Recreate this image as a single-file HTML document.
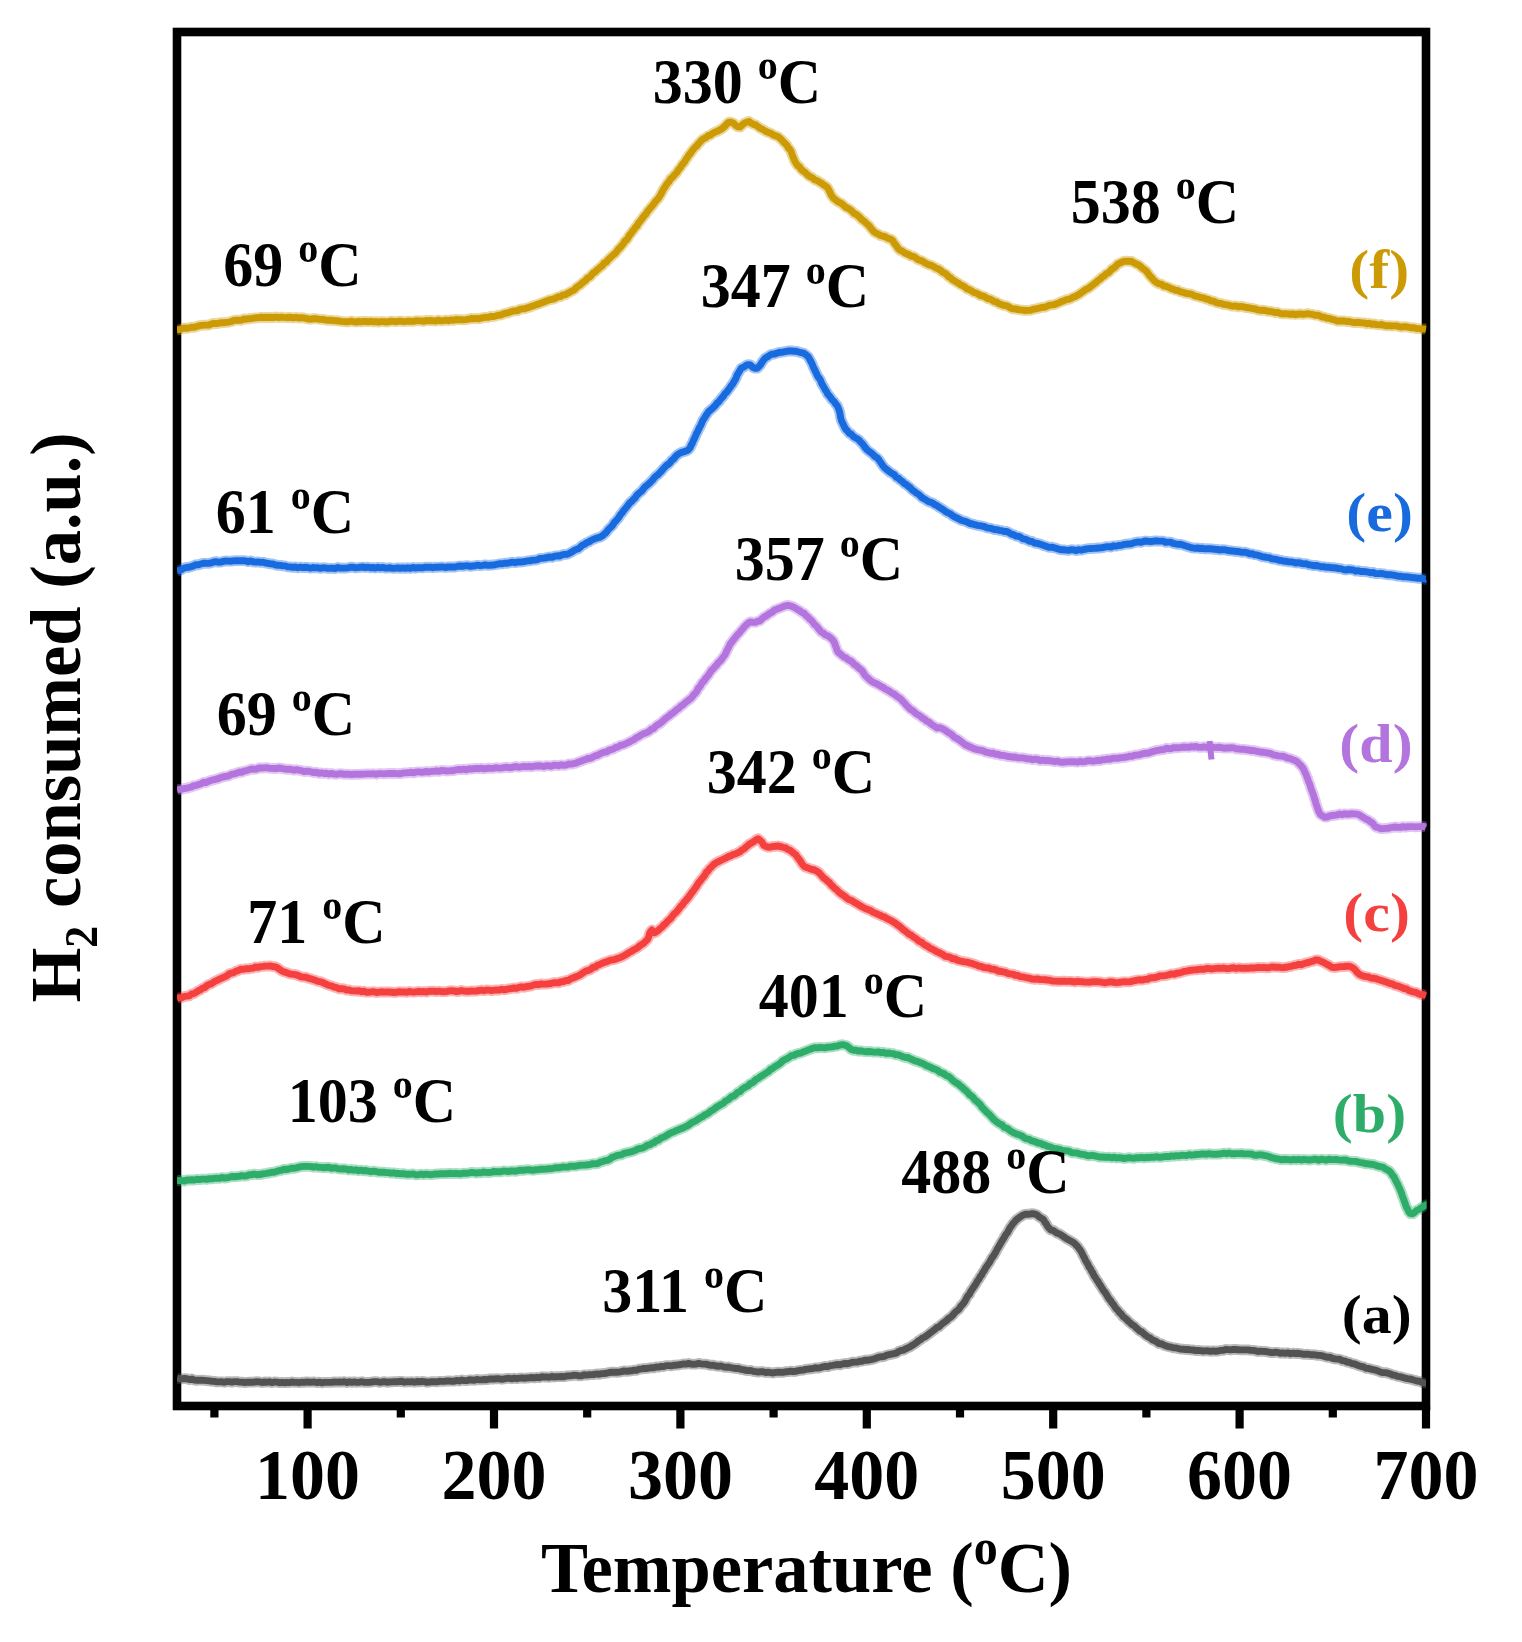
<!DOCTYPE html>
<html lang="en"><head><meta charset="utf-8"><title>H2-TPR profiles</title>
<style>
html,body{margin:0;padding:0;background:#fff;}
body{width:1522px;height:1642px;overflow:hidden;}
svg{display:block;filter:blur(0.75px);}
text{font-family:"Liberation Serif","Times New Roman",serif;font-weight:bold;fill:#000;}
.tick{font-size:70px;text-anchor:middle;}
.ann{font-size:60px;}
.lab{font-size:60px;}
.axis{font-size:70.5px;}
.crv{fill:none;stroke-linejoin:round;stroke-linecap:butt;}
.halo{stroke-width:10.8;stroke-opacity:.4;}
.core{stroke-width:6.9;}
</style></head><body>
<svg width="1522" height="1642" viewBox="0 0 1522 1642">
<rect x="0" y="0" width="1522" height="1642" fill="#fff"/>
<rect x="177" y="32" width="1249" height="1374" fill="none" stroke="#000" stroke-width="8.6"/>
<defs><clipPath id="clip"><rect x="177" y="32" width="1249.6" height="1374"/></clipPath></defs>
<g clip-path="url(#clip)">
<path class="crv halo" stroke="#525252" d="M177.0,1378.1 L179.5,1378.7 L182.0,1378.8 L184.5,1378.5 L187.0,1378.8 L189.5,1379.6 L191.9,1379.0 L194.4,1380.1 L196.9,1380.3 L199.4,1380.2 L201.9,1380.2 L204.4,1380.4 L206.9,1380.6 L209.4,1380.9 L211.9,1381.2 L214.4,1381.4 L216.9,1381.9 L219.4,1381.9 L221.9,1381.8 L224.4,1382.3 L226.9,1381.6 L229.4,1381.6 L231.9,1382.1 L234.4,1381.6 L236.9,1381.6 L239.4,1382.1 L241.9,1382.1 L244.4,1382.5 L246.9,1382.3 L249.4,1382.2 L251.9,1382.2 L254.4,1382.0 L256.9,1381.7 L259.4,1381.9 L261.9,1382.5 L264.4,1382.0 L266.9,1382.2 L269.4,1381.8 L271.9,1382.6 L274.4,1382.0 L276.9,1382.1 L279.4,1382.7 L281.9,1382.4 L284.4,1382.7 L286.9,1382.5 L289.4,1382.6 L291.9,1382.0 L294.4,1382.4 L296.9,1382.4 L299.4,1382.7 L301.9,1382.2 L304.4,1382.4 L306.9,1381.9 L309.4,1382.2 L311.9,1382.1 L314.4,1382.0 L316.9,1382.6 L319.4,1382.2 L321.9,1382.8 L324.4,1382.4 L326.9,1382.4 L329.4,1382.4 L331.9,1382.4 L334.4,1381.9 L336.9,1382.1 L339.4,1381.9 L341.9,1382.1 L344.4,1381.7 L346.9,1382.6 L349.4,1381.8 L351.9,1382.3 L354.4,1381.9 L356.9,1382.4 L359.4,1382.2 L361.9,1381.7 L364.4,1382.4 L366.9,1382.4 L369.4,1382.4 L371.9,1382.0 L374.4,1381.6 L376.9,1381.6 L379.4,1382.3 L381.9,1382.0 L384.4,1381.6 L386.9,1382.3 L389.4,1382.0 L391.9,1381.9 L394.4,1381.7 L396.9,1381.7 L399.4,1381.5 L401.9,1381.3 L404.4,1382.2 L406.9,1381.8 L409.4,1381.9 L411.9,1381.7 L414.4,1382.2 L416.9,1381.5 L419.4,1381.8 L421.9,1381.5 L424.4,1381.6 L426.9,1382.4 L429.4,1382.0 L431.9,1381.7 L434.4,1381.7 L436.9,1381.9 L439.4,1381.3 L441.8,1381.4 L444.3,1381.4 L446.8,1381.0 L449.3,1381.0 L451.8,1381.2 L454.3,1381.2 L456.8,1380.4 L459.3,1381.0 L461.8,1380.0 L464.3,1380.6 L466.8,1380.6 L469.3,1379.8 L471.8,1380.0 L474.3,1380.3 L476.8,1379.4 L479.3,1379.9 L481.8,1379.9 L484.3,1379.5 L486.8,1379.7 L489.3,1379.0 L491.8,1378.9 L494.3,1379.0 L496.8,1378.7 L499.3,1378.8 L501.8,1379.3 L504.3,1378.8 L506.8,1378.4 L509.3,1378.3 L511.8,1378.8 L514.3,1378.2 L516.8,1378.7 L519.3,1378.1 L521.8,1378.0 L524.3,1378.3 L526.8,1378.0 L529.3,1377.8 L531.8,1377.5 L534.3,1377.9 L536.8,1377.3 L539.3,1377.7 L541.8,1376.7 L544.3,1377.0 L546.8,1377.0 L549.3,1377.3 L551.8,1376.5 L554.2,1377.0 L556.7,1376.7 L559.2,1376.7 L561.7,1376.5 L564.2,1376.7 L566.7,1376.0 L569.2,1375.9 L571.7,1375.6 L574.2,1375.3 L576.7,1375.4 L579.2,1375.9 L581.7,1375.7 L584.2,1374.8 L586.7,1375.1 L589.2,1374.7 L591.7,1374.6 L594.2,1374.5 L596.7,1373.9 L599.2,1374.3 L601.6,1373.6 L604.1,1373.5 L606.6,1373.2 L609.1,1372.5 L611.6,1372.2 L614.1,1372.2 L616.6,1372.3 L619.1,1372.1 L621.5,1371.7 L624.0,1370.9 L626.5,1371.4 L629.0,1371.0 L631.5,1370.8 L634.0,1370.2 L636.5,1370.3 L638.9,1369.2 L641.4,1368.9 L643.9,1368.5 L646.4,1368.5 L648.9,1368.1 L651.3,1367.7 L653.8,1367.8 L656.3,1366.9 L658.8,1367.1 L661.2,1366.4 L663.7,1366.6 L666.2,1365.6 L668.7,1365.6 L671.2,1365.9 L673.7,1365.2 L676.1,1365.2 L678.6,1364.8 L681.1,1364.5 L683.6,1363.9 L686.1,1364.1 L688.6,1363.4 L691.1,1364.1 L693.6,1364.2 L696.1,1364.1 L698.6,1363.4 L701.1,1363.9 L703.6,1364.1 L706.1,1364.1 L708.6,1364.9 L711.1,1365.4 L713.5,1365.2 L716.0,1366.0 L718.5,1366.3 L721.0,1365.9 L723.5,1366.9 L726.0,1367.4 L728.4,1367.0 L730.9,1367.7 L733.4,1368.1 L735.9,1368.5 L738.3,1368.4 L740.8,1369.3 L743.3,1369.7 L745.7,1370.3 L748.2,1370.6 L750.7,1370.5 L753.2,1371.3 L755.6,1371.7 L758.1,1372.1 L760.6,1371.6 L763.1,1371.7 L765.6,1372.5 L768.1,1372.2 L770.6,1372.6 L773.1,1373.0 L775.6,1372.4 L778.1,1372.2 L780.6,1372.3 L783.1,1372.4 L785.6,1371.7 L788.1,1371.7 L790.6,1371.2 L793.1,1371.5 L795.6,1371.4 L798.1,1370.6 L800.6,1370.3 L803.1,1370.1 L805.5,1369.4 L808.0,1369.1 L810.5,1368.8 L813.0,1368.6 L815.4,1367.8 L817.9,1368.1 L820.4,1367.6 L822.8,1366.9 L825.3,1366.3 L827.8,1366.7 L830.3,1365.6 L832.7,1365.3 L835.2,1364.9 L837.7,1364.5 L840.1,1364.9 L842.6,1363.9 L845.1,1363.5 L847.6,1363.7 L850.0,1363.1 L852.5,1362.2 L855.0,1362.1 L857.4,1362.1 L859.9,1361.2 L862.4,1361.2 L864.8,1360.1 L867.3,1360.3 L869.7,1359.8 L872.2,1359.4 L874.6,1358.7 L877.0,1357.8 L879.5,1356.9 L881.9,1356.8 L884.3,1356.4 L886.8,1355.2 L889.2,1354.7 L891.6,1354.2 L894.0,1353.7 L896.3,1353.1 L898.7,1351.4 L901.0,1350.5 L903.3,1350.1 L905.6,1348.9 L907.8,1347.8 L910.0,1346.8 L912.1,1345.5 L914.3,1344.1 L916.4,1342.7 L918.4,1340.9 L920.5,1339.8 L922.6,1337.9 L924.6,1337.1 L926.7,1335.6 L928.7,1334.2 L930.8,1332.4 L932.8,1330.9 L934.8,1329.5 L936.8,1327.6 L938.8,1326.9 L940.8,1325.1 L942.7,1323.3 L944.7,1321.9 L946.6,1320.5 L948.5,1318.5 L950.4,1317.3 L952.3,1315.7 L954.1,1313.5 L955.9,1311.5 L957.7,1310.3 L959.3,1308.7 L961.0,1305.9 L962.5,1304.5 L964.0,1302.6 L965.3,1300.6 L966.7,1297.7 L968.0,1295.6 L969.4,1294.4 L970.7,1291.4 L972.1,1289.4 L973.4,1287.6 L974.8,1285.4 L976.1,1283.6 L977.4,1280.9 L978.8,1279.5 L980.1,1276.7 L981.5,1275.2 L982.8,1272.4 L984.2,1270.7 L985.5,1268.1 L986.8,1266.3 L988.2,1264.2 L989.5,1262.4 L990.8,1260.0 L992.1,1257.5 L993.3,1256.3 L994.6,1254.0 L995.9,1251.9 L997.2,1249.1 L998.5,1247.1 L999.8,1244.8 L1001.1,1242.6 L1002.4,1240.3 L1003.6,1238.6 L1004.9,1236.1 L1006.2,1234.0 L1007.5,1232.6 L1008.8,1230.1 L1010.1,1227.6 L1011.4,1226.1 L1012.8,1223.7 L1014.4,1222.1 L1016.1,1220.0 L1018.0,1218.5 L1020.2,1216.9 L1022.5,1215.4 L1025.0,1214.3 L1027.4,1214.2 L1029.9,1214.1 L1032.2,1213.6 L1034.6,1214.0 L1036.9,1214.8 L1039.2,1216.9 L1041.5,1218.3 L1043.5,1219.4 L1044.9,1222.3 L1046.2,1223.7 L1047.4,1226.2 L1048.9,1228.1 L1050.9,1230.0 L1053.0,1230.3 L1055.2,1231.8 L1057.4,1233.3 L1059.6,1234.0 L1061.7,1235.4 L1063.9,1236.9 L1066.1,1238.5 L1068.3,1239.6 L1070.5,1240.9 L1072.6,1242.1 L1074.6,1243.6 L1076.5,1245.4 L1078.1,1247.2 L1079.6,1249.3 L1080.8,1251.0 L1082.0,1253.1 L1083.2,1255.9 L1084.3,1257.6 L1085.5,1260.5 L1086.7,1262.4 L1087.9,1264.3 L1089.1,1267.1 L1090.3,1268.5 L1091.5,1271.1 L1092.8,1272.8 L1094.1,1275.8 L1095.4,1277.6 L1096.7,1279.9 L1098.0,1281.5 L1099.4,1284.1 L1100.8,1286.1 L1102.1,1288.2 L1103.5,1290.6 L1104.9,1292.1 L1106.2,1294.2 L1107.6,1296.6 L1109.0,1298.8 L1110.4,1300.3 L1111.8,1302.7 L1113.3,1304.3 L1114.8,1306.7 L1116.3,1308.9 L1117.8,1310.1 L1119.5,1312.7 L1121.2,1313.8 L1122.9,1316.5 L1124.7,1317.8 L1126.6,1319.4 L1128.4,1321.4 L1130.3,1322.9 L1132.2,1324.7 L1134.1,1325.7 L1136.0,1327.8 L1138.0,1329.4 L1139.9,1331.3 L1141.9,1331.9 L1143.9,1333.8 L1145.9,1335.5 L1147.9,1336.9 L1150.0,1337.8 L1152.1,1339.7 L1154.3,1340.6 L1156.5,1341.7 L1158.8,1343.5 L1161.1,1343.7 L1163.5,1344.9 L1165.9,1345.9 L1168.4,1346.6 L1170.8,1347.0 L1173.2,1347.8 L1175.7,1347.9 L1178.1,1348.5 L1180.6,1349.1 L1183.1,1349.2 L1185.6,1349.5 L1188.1,1349.5 L1190.6,1349.9 L1193.0,1350.0 L1195.5,1350.5 L1198.0,1350.4 L1200.5,1350.6 L1203.0,1351.0 L1205.5,1350.9 L1208.0,1350.8 L1210.5,1351.3 L1213.0,1350.9 L1215.5,1351.2 L1218.0,1351.0 L1220.5,1350.4 L1223.0,1350.4 L1225.5,1349.5 L1228.0,1349.6 L1230.5,1349.9 L1233.0,1349.5 L1235.5,1349.5 L1238.0,1349.7 L1240.5,1349.9 L1243.0,1349.9 L1245.5,1349.9 L1247.9,1349.9 L1250.4,1350.2 L1252.9,1350.4 L1255.4,1350.7 L1257.9,1351.5 L1260.4,1351.1 L1262.9,1351.4 L1265.4,1351.5 L1267.9,1351.9 L1270.4,1352.5 L1272.9,1352.6 L1275.4,1352.3 L1277.9,1352.4 L1280.3,1353.2 L1282.8,1352.9 L1285.3,1353.3 L1287.8,1352.8 L1290.3,1353.7 L1292.8,1353.2 L1295.3,1353.5 L1297.8,1353.3 L1300.3,1353.6 L1302.8,1354.2 L1305.3,1354.3 L1307.8,1354.2 L1310.3,1354.7 L1312.8,1354.7 L1315.3,1354.9 L1317.7,1355.4 L1320.2,1355.4 L1322.7,1355.9 L1325.2,1356.7 L1327.6,1357.3 L1330.1,1357.1 L1332.5,1358.3 L1335.0,1358.9 L1337.4,1359.1 L1339.8,1359.3 L1342.3,1360.6 L1344.7,1360.9 L1347.1,1362.0 L1349.5,1362.4 L1351.8,1363.5 L1354.2,1363.8 L1356.6,1364.8 L1359.0,1365.7 L1361.4,1366.5 L1363.7,1366.9 L1366.1,1368.4 L1368.5,1368.4 L1370.9,1369.1 L1373.3,1369.7 L1375.7,1370.2 L1378.2,1371.1 L1380.6,1372.1 L1383.0,1372.6 L1385.5,1372.6 L1387.9,1373.2 L1390.3,1373.9 L1392.8,1375.0 L1395.2,1375.3 L1397.6,1376.4 L1400.0,1376.7 L1402.4,1377.3 L1404.9,1378.1 L1407.3,1378.7 L1409.7,1379.0 L1412.1,1379.5 L1414.5,1380.3 L1416.9,1381.0 L1419.4,1381.3 L1421.8,1382.3 L1424.2,1383.1 L1426.0,1383.1"/>
<path class="crv core" stroke="#525252" d="M177.0,1378.1 L179.5,1378.7 L182.0,1378.8 L184.5,1378.5 L187.0,1378.8 L189.5,1379.6 L191.9,1379.0 L194.4,1380.1 L196.9,1380.3 L199.4,1380.2 L201.9,1380.2 L204.4,1380.4 L206.9,1380.6 L209.4,1380.9 L211.9,1381.2 L214.4,1381.4 L216.9,1381.9 L219.4,1381.9 L221.9,1381.8 L224.4,1382.3 L226.9,1381.6 L229.4,1381.6 L231.9,1382.1 L234.4,1381.6 L236.9,1381.6 L239.4,1382.1 L241.9,1382.1 L244.4,1382.5 L246.9,1382.3 L249.4,1382.2 L251.9,1382.2 L254.4,1382.0 L256.9,1381.7 L259.4,1381.9 L261.9,1382.5 L264.4,1382.0 L266.9,1382.2 L269.4,1381.8 L271.9,1382.6 L274.4,1382.0 L276.9,1382.1 L279.4,1382.7 L281.9,1382.4 L284.4,1382.7 L286.9,1382.5 L289.4,1382.6 L291.9,1382.0 L294.4,1382.4 L296.9,1382.4 L299.4,1382.7 L301.9,1382.2 L304.4,1382.4 L306.9,1381.9 L309.4,1382.2 L311.9,1382.1 L314.4,1382.0 L316.9,1382.6 L319.4,1382.2 L321.9,1382.8 L324.4,1382.4 L326.9,1382.4 L329.4,1382.4 L331.9,1382.4 L334.4,1381.9 L336.9,1382.1 L339.4,1381.9 L341.9,1382.1 L344.4,1381.7 L346.9,1382.6 L349.4,1381.8 L351.9,1382.3 L354.4,1381.9 L356.9,1382.4 L359.4,1382.2 L361.9,1381.7 L364.4,1382.4 L366.9,1382.4 L369.4,1382.4 L371.9,1382.0 L374.4,1381.6 L376.9,1381.6 L379.4,1382.3 L381.9,1382.0 L384.4,1381.6 L386.9,1382.3 L389.4,1382.0 L391.9,1381.9 L394.4,1381.7 L396.9,1381.7 L399.4,1381.5 L401.9,1381.3 L404.4,1382.2 L406.9,1381.8 L409.4,1381.9 L411.9,1381.7 L414.4,1382.2 L416.9,1381.5 L419.4,1381.8 L421.9,1381.5 L424.4,1381.6 L426.9,1382.4 L429.4,1382.0 L431.9,1381.7 L434.4,1381.7 L436.9,1381.9 L439.4,1381.3 L441.8,1381.4 L444.3,1381.4 L446.8,1381.0 L449.3,1381.0 L451.8,1381.2 L454.3,1381.2 L456.8,1380.4 L459.3,1381.0 L461.8,1380.0 L464.3,1380.6 L466.8,1380.6 L469.3,1379.8 L471.8,1380.0 L474.3,1380.3 L476.8,1379.4 L479.3,1379.9 L481.8,1379.9 L484.3,1379.5 L486.8,1379.7 L489.3,1379.0 L491.8,1378.9 L494.3,1379.0 L496.8,1378.7 L499.3,1378.8 L501.8,1379.3 L504.3,1378.8 L506.8,1378.4 L509.3,1378.3 L511.8,1378.8 L514.3,1378.2 L516.8,1378.7 L519.3,1378.1 L521.8,1378.0 L524.3,1378.3 L526.8,1378.0 L529.3,1377.8 L531.8,1377.5 L534.3,1377.9 L536.8,1377.3 L539.3,1377.7 L541.8,1376.7 L544.3,1377.0 L546.8,1377.0 L549.3,1377.3 L551.8,1376.5 L554.2,1377.0 L556.7,1376.7 L559.2,1376.7 L561.7,1376.5 L564.2,1376.7 L566.7,1376.0 L569.2,1375.9 L571.7,1375.6 L574.2,1375.3 L576.7,1375.4 L579.2,1375.9 L581.7,1375.7 L584.2,1374.8 L586.7,1375.1 L589.2,1374.7 L591.7,1374.6 L594.2,1374.5 L596.7,1373.9 L599.2,1374.3 L601.6,1373.6 L604.1,1373.5 L606.6,1373.2 L609.1,1372.5 L611.6,1372.2 L614.1,1372.2 L616.6,1372.3 L619.1,1372.1 L621.5,1371.7 L624.0,1370.9 L626.5,1371.4 L629.0,1371.0 L631.5,1370.8 L634.0,1370.2 L636.5,1370.3 L638.9,1369.2 L641.4,1368.9 L643.9,1368.5 L646.4,1368.5 L648.9,1368.1 L651.3,1367.7 L653.8,1367.8 L656.3,1366.9 L658.8,1367.1 L661.2,1366.4 L663.7,1366.6 L666.2,1365.6 L668.7,1365.6 L671.2,1365.9 L673.7,1365.2 L676.1,1365.2 L678.6,1364.8 L681.1,1364.5 L683.6,1363.9 L686.1,1364.1 L688.6,1363.4 L691.1,1364.1 L693.6,1364.2 L696.1,1364.1 L698.6,1363.4 L701.1,1363.9 L703.6,1364.1 L706.1,1364.1 L708.6,1364.9 L711.1,1365.4 L713.5,1365.2 L716.0,1366.0 L718.5,1366.3 L721.0,1365.9 L723.5,1366.9 L726.0,1367.4 L728.4,1367.0 L730.9,1367.7 L733.4,1368.1 L735.9,1368.5 L738.3,1368.4 L740.8,1369.3 L743.3,1369.7 L745.7,1370.3 L748.2,1370.6 L750.7,1370.5 L753.2,1371.3 L755.6,1371.7 L758.1,1372.1 L760.6,1371.6 L763.1,1371.7 L765.6,1372.5 L768.1,1372.2 L770.6,1372.6 L773.1,1373.0 L775.6,1372.4 L778.1,1372.2 L780.6,1372.3 L783.1,1372.4 L785.6,1371.7 L788.1,1371.7 L790.6,1371.2 L793.1,1371.5 L795.6,1371.4 L798.1,1370.6 L800.6,1370.3 L803.1,1370.1 L805.5,1369.4 L808.0,1369.1 L810.5,1368.8 L813.0,1368.6 L815.4,1367.8 L817.9,1368.1 L820.4,1367.6 L822.8,1366.9 L825.3,1366.3 L827.8,1366.7 L830.3,1365.6 L832.7,1365.3 L835.2,1364.9 L837.7,1364.5 L840.1,1364.9 L842.6,1363.9 L845.1,1363.5 L847.6,1363.7 L850.0,1363.1 L852.5,1362.2 L855.0,1362.1 L857.4,1362.1 L859.9,1361.2 L862.4,1361.2 L864.8,1360.1 L867.3,1360.3 L869.7,1359.8 L872.2,1359.4 L874.6,1358.7 L877.0,1357.8 L879.5,1356.9 L881.9,1356.8 L884.3,1356.4 L886.8,1355.2 L889.2,1354.7 L891.6,1354.2 L894.0,1353.7 L896.3,1353.1 L898.7,1351.4 L901.0,1350.5 L903.3,1350.1 L905.6,1348.9 L907.8,1347.8 L910.0,1346.8 L912.1,1345.5 L914.3,1344.1 L916.4,1342.7 L918.4,1340.9 L920.5,1339.8 L922.6,1337.9 L924.6,1337.1 L926.7,1335.6 L928.7,1334.2 L930.8,1332.4 L932.8,1330.9 L934.8,1329.5 L936.8,1327.6 L938.8,1326.9 L940.8,1325.1 L942.7,1323.3 L944.7,1321.9 L946.6,1320.5 L948.5,1318.5 L950.4,1317.3 L952.3,1315.7 L954.1,1313.5 L955.9,1311.5 L957.7,1310.3 L959.3,1308.7 L961.0,1305.9 L962.5,1304.5 L964.0,1302.6 L965.3,1300.6 L966.7,1297.7 L968.0,1295.6 L969.4,1294.4 L970.7,1291.4 L972.1,1289.4 L973.4,1287.6 L974.8,1285.4 L976.1,1283.6 L977.4,1280.9 L978.8,1279.5 L980.1,1276.7 L981.5,1275.2 L982.8,1272.4 L984.2,1270.7 L985.5,1268.1 L986.8,1266.3 L988.2,1264.2 L989.5,1262.4 L990.8,1260.0 L992.1,1257.5 L993.3,1256.3 L994.6,1254.0 L995.9,1251.9 L997.2,1249.1 L998.5,1247.1 L999.8,1244.8 L1001.1,1242.6 L1002.4,1240.3 L1003.6,1238.6 L1004.9,1236.1 L1006.2,1234.0 L1007.5,1232.6 L1008.8,1230.1 L1010.1,1227.6 L1011.4,1226.1 L1012.8,1223.7 L1014.4,1222.1 L1016.1,1220.0 L1018.0,1218.5 L1020.2,1216.9 L1022.5,1215.4 L1025.0,1214.3 L1027.4,1214.2 L1029.9,1214.1 L1032.2,1213.6 L1034.6,1214.0 L1036.9,1214.8 L1039.2,1216.9 L1041.5,1218.3 L1043.5,1219.4 L1044.9,1222.3 L1046.2,1223.7 L1047.4,1226.2 L1048.9,1228.1 L1050.9,1230.0 L1053.0,1230.3 L1055.2,1231.8 L1057.4,1233.3 L1059.6,1234.0 L1061.7,1235.4 L1063.9,1236.9 L1066.1,1238.5 L1068.3,1239.6 L1070.5,1240.9 L1072.6,1242.1 L1074.6,1243.6 L1076.5,1245.4 L1078.1,1247.2 L1079.6,1249.3 L1080.8,1251.0 L1082.0,1253.1 L1083.2,1255.9 L1084.3,1257.6 L1085.5,1260.5 L1086.7,1262.4 L1087.9,1264.3 L1089.1,1267.1 L1090.3,1268.5 L1091.5,1271.1 L1092.8,1272.8 L1094.1,1275.8 L1095.4,1277.6 L1096.7,1279.9 L1098.0,1281.5 L1099.4,1284.1 L1100.8,1286.1 L1102.1,1288.2 L1103.5,1290.6 L1104.9,1292.1 L1106.2,1294.2 L1107.6,1296.6 L1109.0,1298.8 L1110.4,1300.3 L1111.8,1302.7 L1113.3,1304.3 L1114.8,1306.7 L1116.3,1308.9 L1117.8,1310.1 L1119.5,1312.7 L1121.2,1313.8 L1122.9,1316.5 L1124.7,1317.8 L1126.6,1319.4 L1128.4,1321.4 L1130.3,1322.9 L1132.2,1324.7 L1134.1,1325.7 L1136.0,1327.8 L1138.0,1329.4 L1139.9,1331.3 L1141.9,1331.9 L1143.9,1333.8 L1145.9,1335.5 L1147.9,1336.9 L1150.0,1337.8 L1152.1,1339.7 L1154.3,1340.6 L1156.5,1341.7 L1158.8,1343.5 L1161.1,1343.7 L1163.5,1344.9 L1165.9,1345.9 L1168.4,1346.6 L1170.8,1347.0 L1173.2,1347.8 L1175.7,1347.9 L1178.1,1348.5 L1180.6,1349.1 L1183.1,1349.2 L1185.6,1349.5 L1188.1,1349.5 L1190.6,1349.9 L1193.0,1350.0 L1195.5,1350.5 L1198.0,1350.4 L1200.5,1350.6 L1203.0,1351.0 L1205.5,1350.9 L1208.0,1350.8 L1210.5,1351.3 L1213.0,1350.9 L1215.5,1351.2 L1218.0,1351.0 L1220.5,1350.4 L1223.0,1350.4 L1225.5,1349.5 L1228.0,1349.6 L1230.5,1349.9 L1233.0,1349.5 L1235.5,1349.5 L1238.0,1349.7 L1240.5,1349.9 L1243.0,1349.9 L1245.5,1349.9 L1247.9,1349.9 L1250.4,1350.2 L1252.9,1350.4 L1255.4,1350.7 L1257.9,1351.5 L1260.4,1351.1 L1262.9,1351.4 L1265.4,1351.5 L1267.9,1351.9 L1270.4,1352.5 L1272.9,1352.6 L1275.4,1352.3 L1277.9,1352.4 L1280.3,1353.2 L1282.8,1352.9 L1285.3,1353.3 L1287.8,1352.8 L1290.3,1353.7 L1292.8,1353.2 L1295.3,1353.5 L1297.8,1353.3 L1300.3,1353.6 L1302.8,1354.2 L1305.3,1354.3 L1307.8,1354.2 L1310.3,1354.7 L1312.8,1354.7 L1315.3,1354.9 L1317.7,1355.4 L1320.2,1355.4 L1322.7,1355.9 L1325.2,1356.7 L1327.6,1357.3 L1330.1,1357.1 L1332.5,1358.3 L1335.0,1358.9 L1337.4,1359.1 L1339.8,1359.3 L1342.3,1360.6 L1344.7,1360.9 L1347.1,1362.0 L1349.5,1362.4 L1351.8,1363.5 L1354.2,1363.8 L1356.6,1364.8 L1359.0,1365.7 L1361.4,1366.5 L1363.7,1366.9 L1366.1,1368.4 L1368.5,1368.4 L1370.9,1369.1 L1373.3,1369.7 L1375.7,1370.2 L1378.2,1371.1 L1380.6,1372.1 L1383.0,1372.6 L1385.5,1372.6 L1387.9,1373.2 L1390.3,1373.9 L1392.8,1375.0 L1395.2,1375.3 L1397.6,1376.4 L1400.0,1376.7 L1402.4,1377.3 L1404.9,1378.1 L1407.3,1378.7 L1409.7,1379.0 L1412.1,1379.5 L1414.5,1380.3 L1416.9,1381.0 L1419.4,1381.3 L1421.8,1382.3 L1424.2,1383.1 L1426.0,1383.1"/>
<path class="crv halo" stroke="#2EAC6A" d="M177.0,1180.6 L179.5,1180.5 L182.0,1180.5 L184.5,1181.1 L187.0,1180.0 L189.5,1180.0 L192.0,1179.8 L194.5,1180.0 L197.0,1179.3 L199.5,1179.6 L202.0,1179.1 L204.4,1179.1 L206.9,1179.4 L209.4,1178.6 L211.9,1178.8 L214.4,1178.4 L216.9,1178.2 L219.4,1178.4 L221.9,1177.5 L224.4,1178.0 L226.9,1177.8 L229.4,1177.3 L231.8,1176.5 L234.3,1176.8 L236.8,1176.5 L239.3,1176.4 L241.8,1175.6 L244.3,1176.1 L246.8,1175.8 L249.3,1174.7 L251.7,1174.7 L254.2,1174.1 L256.7,1174.7 L259.2,1174.5 L261.7,1174.3 L264.2,1173.6 L266.6,1173.3 L269.1,1172.9 L271.6,1172.3 L274.1,1172.2 L276.5,1171.4 L279.0,1170.6 L281.5,1170.3 L284.0,1169.3 L286.4,1169.5 L288.9,1169.0 L291.4,1168.3 L293.8,1168.3 L296.3,1167.9 L298.8,1167.1 L301.3,1166.6 L303.7,1166.4 L306.2,1166.4 L308.7,1166.4 L311.2,1166.6 L313.7,1167.2 L316.2,1166.7 L318.7,1167.4 L321.2,1167.4 L323.7,1167.7 L326.1,1167.5 L328.6,1167.3 L331.1,1168.3 L333.6,1167.9 L336.1,1168.0 L338.6,1168.9 L341.1,1169.0 L343.6,1168.8 L346.1,1169.1 L348.6,1170.0 L351.1,1169.5 L353.6,1170.2 L356.0,1169.8 L358.5,1170.7 L361.0,1170.2 L363.5,1170.8 L366.0,1170.5 L368.5,1171.2 L371.0,1171.7 L373.5,1171.1 L376.0,1171.5 L378.5,1172.2 L381.0,1172.2 L383.5,1172.1 L386.0,1172.6 L388.5,1172.6 L390.9,1173.2 L393.4,1172.8 L395.9,1173.5 L398.4,1173.5 L400.9,1173.8 L403.4,1173.6 L405.9,1174.2 L408.4,1174.3 L410.9,1174.1 L413.4,1173.9 L415.9,1174.9 L418.4,1174.7 L420.9,1174.2 L423.4,1174.7 L425.9,1174.2 L428.4,1174.4 L430.9,1174.7 L433.4,1174.3 L435.9,1174.0 L438.4,1174.0 L440.9,1173.7 L443.4,1173.7 L445.9,1173.7 L448.4,1173.5 L450.9,1173.3 L453.4,1173.7 L455.9,1173.3 L458.4,1173.7 L460.9,1173.8 L463.4,1173.1 L465.9,1173.3 L468.4,1173.1 L470.9,1172.5 L473.4,1172.5 L475.9,1173.1 L478.4,1172.6 L480.9,1172.8 L483.4,1172.0 L485.9,1172.4 L488.4,1172.5 L490.9,1172.4 L493.4,1171.5 L495.9,1171.8 L498.4,1171.6 L500.8,1171.8 L503.3,1171.0 L505.8,1171.1 L508.3,1171.5 L510.8,1171.0 L513.3,1170.9 L515.8,1171.3 L518.3,1170.5 L520.8,1170.1 L523.3,1170.3 L525.8,1169.9 L528.3,1169.7 L530.8,1170.0 L533.3,1170.3 L535.8,1169.7 L538.3,1169.6 L540.8,1169.1 L543.3,1169.2 L545.8,1169.1 L548.3,1168.8 L550.7,1168.7 L553.2,1168.3 L555.7,1167.7 L558.2,1167.8 L560.7,1167.5 L563.2,1166.9 L565.7,1167.1 L568.2,1167.0 L570.6,1166.1 L573.1,1166.2 L575.6,1166.2 L578.1,1165.6 L580.6,1165.2 L583.1,1165.1 L585.6,1165.0 L588.1,1164.8 L590.5,1164.4 L593.0,1163.6 L595.5,1163.9 L597.9,1163.5 L600.4,1162.1 L602.8,1161.5 L605.1,1160.6 L607.4,1160.3 L609.7,1159.3 L612.0,1157.4 L614.3,1156.7 L616.6,1155.7 L619.0,1155.2 L621.4,1154.9 L623.8,1153.4 L626.2,1152.8 L628.6,1152.4 L631.0,1151.8 L633.4,1151.2 L635.8,1150.1 L638.1,1148.9 L640.4,1148.3 L642.8,1148.0 L645.1,1146.8 L647.4,1145.2 L649.7,1144.8 L651.9,1143.3 L654.1,1142.6 L656.3,1140.6 L658.5,1140.3 L660.7,1138.3 L662.9,1137.4 L665.1,1136.4 L667.3,1135.0 L669.5,1133.6 L671.8,1132.5 L674.1,1131.7 L676.4,1130.5 L678.7,1129.7 L681.0,1128.6 L683.3,1127.9 L685.5,1126.6 L687.7,1125.6 L689.8,1124.1 L692.0,1122.6 L694.1,1121.6 L696.2,1120.7 L698.4,1118.9 L700.5,1117.7 L702.6,1116.7 L704.7,1115.0 L706.8,1114.1 L708.9,1112.8 L711.0,1110.9 L713.1,1109.9 L715.2,1108.1 L717.3,1106.6 L719.4,1105.5 L721.4,1104.2 L723.5,1103.1 L725.6,1100.9 L727.6,1100.1 L729.7,1098.4 L731.7,1096.6 L733.8,1096.0 L735.8,1094.3 L737.8,1092.3 L739.9,1091.7 L741.9,1089.4 L744.0,1088.0 L746.0,1086.8 L748.1,1085.9 L750.1,1083.6 L752.1,1083.0 L754.2,1081.3 L756.2,1079.3 L758.3,1078.4 L760.3,1076.8 L762.4,1075.5 L764.4,1074.2 L766.5,1072.7 L768.5,1071.6 L770.6,1069.3 L772.6,1068.5 L774.6,1066.7 L776.7,1065.6 L778.7,1064.3 L780.7,1062.9 L782.8,1060.8 L784.9,1059.6 L786.9,1058.7 L789.1,1057.3 L791.3,1055.7 L793.7,1055.4 L796.1,1054.1 L798.5,1053.4 L800.9,1053.0 L803.2,1051.9 L805.6,1051.0 L807.9,1050.1 L810.3,1049.3 L812.7,1048.3 L815.1,1047.6 L817.6,1047.9 L820.1,1047.5 L822.6,1047.6 L825.1,1047.8 L827.6,1047.2 L830.1,1047.1 L832.6,1046.8 L835.1,1046.2 L837.5,1046.0 L840.0,1045.1 L842.4,1044.7 L844.8,1045.2 L847.0,1045.9 L849.0,1047.4 L851.2,1049.5 L853.6,1050.3 L856.0,1050.3 L858.5,1051.1 L861.0,1050.8 L863.5,1051.4 L866.0,1051.7 L868.5,1051.5 L871.0,1051.7 L873.5,1052.1 L876.0,1052.2 L878.4,1051.9 L880.9,1052.7 L883.4,1052.3 L885.9,1053.4 L888.4,1053.0 L890.9,1053.4 L893.3,1053.7 L895.8,1054.9 L898.2,1054.8 L900.7,1055.7 L903.1,1056.8 L905.5,1057.5 L907.9,1057.4 L910.2,1058.8 L912.6,1059.8 L914.9,1060.8 L917.2,1061.4 L919.5,1062.4 L921.7,1063.1 L924.0,1064.1 L926.3,1065.7 L928.6,1066.3 L930.8,1067.4 L933.1,1068.6 L935.4,1069.3 L937.7,1070.4 L939.9,1072.3 L942.1,1073.0 L944.3,1074.0 L946.5,1075.7 L948.6,1076.4 L950.7,1078.1 L952.7,1080.3 L954.7,1081.8 L956.6,1083.1 L958.5,1084.1 L960.4,1086.0 L962.3,1087.4 L964.1,1089.3 L966.0,1090.8 L967.8,1092.6 L969.6,1094.8 L971.5,1095.9 L973.3,1097.7 L975.1,1100.2 L976.9,1101.4 L978.6,1103.2 L980.3,1104.7 L982.0,1107.3 L983.7,1109.0 L985.4,1110.7 L987.1,1112.6 L988.8,1113.9 L990.6,1115.8 L992.4,1117.9 L994.2,1119.9 L996.2,1121.5 L998.1,1122.9 L1000.2,1124.2 L1002.2,1125.2 L1004.3,1127.5 L1006.4,1128.0 L1008.5,1129.3 L1010.7,1131.1 L1012.9,1132.4 L1015.1,1133.5 L1017.4,1134.3 L1019.7,1135.1 L1022.0,1136.0 L1024.3,1137.8 L1026.6,1138.9 L1028.9,1139.1 L1031.3,1140.7 L1033.6,1141.2 L1035.9,1142.0 L1038.3,1143.0 L1040.6,1143.4 L1043.0,1144.6 L1045.4,1145.2 L1047.7,1146.4 L1050.1,1146.9 L1052.5,1148.0 L1054.9,1148.7 L1057.4,1148.8 L1059.8,1149.3 L1062.2,1150.6 L1064.7,1150.7 L1067.1,1150.9 L1069.6,1151.4 L1072.0,1152.8 L1074.5,1152.9 L1076.9,1152.9 L1079.4,1153.8 L1081.8,1154.3 L1084.3,1154.6 L1086.8,1155.5 L1089.2,1155.9 L1091.7,1155.4 L1094.2,1155.7 L1096.7,1156.3 L1099.2,1157.0 L1101.7,1157.0 L1104.2,1157.2 L1106.7,1157.3 L1109.2,1157.1 L1111.7,1157.8 L1114.2,1157.2 L1116.7,1158.0 L1119.2,1157.6 L1121.7,1158.0 L1124.2,1158.5 L1126.7,1158.1 L1129.2,1157.7 L1131.7,1158.1 L1134.2,1158.3 L1136.7,1157.6 L1139.2,1157.7 L1141.7,1157.4 L1144.1,1157.8 L1146.6,1157.5 L1149.1,1157.5 L1151.6,1157.1 L1154.1,1157.3 L1156.6,1156.7 L1159.1,1157.3 L1161.6,1157.2 L1164.1,1156.6 L1166.6,1156.4 L1169.1,1156.6 L1171.6,1155.9 L1174.1,1156.2 L1176.6,1155.6 L1179.1,1155.9 L1181.6,1155.3 L1184.1,1155.4 L1186.6,1155.6 L1189.1,1154.6 L1191.6,1155.2 L1194.1,1154.8 L1196.6,1154.5 L1199.1,1154.4 L1201.6,1154.0 L1204.0,1154.0 L1206.5,1154.3 L1209.0,1153.6 L1211.5,1154.1 L1214.0,1154.2 L1216.5,1154.2 L1219.0,1154.0 L1221.5,1153.8 L1224.0,1153.1 L1226.5,1153.8 L1229.0,1153.0 L1231.5,1153.7 L1234.0,1153.8 L1236.5,1153.6 L1239.0,1153.6 L1241.5,1153.5 L1244.0,1153.9 L1246.5,1153.9 L1249.0,1153.9 L1251.5,1154.1 L1254.0,1155.0 L1256.5,1155.3 L1259.0,1154.8 L1261.5,1154.9 L1264.0,1155.4 L1266.4,1155.8 L1268.9,1156.5 L1271.3,1157.5 L1273.7,1158.1 L1276.1,1158.7 L1278.6,1159.0 L1281.1,1159.7 L1283.6,1159.4 L1286.1,1159.5 L1288.6,1159.6 L1291.1,1160.0 L1293.6,1159.4 L1296.1,1159.8 L1298.6,1159.4 L1301.1,1160.0 L1303.6,1159.5 L1306.1,1159.6 L1308.6,1160.0 L1311.1,1159.8 L1313.6,1159.3 L1316.1,1159.3 L1318.6,1160.2 L1321.1,1159.2 L1323.6,1159.5 L1326.1,1160.2 L1328.6,1159.3 L1331.1,1159.5 L1333.6,1159.6 L1336.1,1159.5 L1338.6,1159.9 L1341.1,1160.1 L1343.5,1160.0 L1346.0,1160.0 L1348.5,1161.0 L1351.0,1161.3 L1353.5,1161.4 L1355.9,1161.4 L1358.4,1162.2 L1360.9,1162.7 L1363.3,1163.0 L1365.8,1163.8 L1368.3,1163.8 L1370.8,1164.3 L1373.2,1164.4 L1375.6,1165.3 L1378.1,1166.1 L1380.5,1166.7 L1382.9,1167.1 L1385.2,1168.8 L1387.4,1169.8 L1389.4,1171.1 L1391.1,1173.0 L1392.6,1175.4 L1394.0,1176.9 L1395.2,1179.6 L1396.4,1181.9 L1397.5,1183.9 L1398.6,1186.5 L1399.6,1188.4 L1400.5,1190.7 L1401.4,1192.8 L1402.3,1195.8 L1403.1,1197.6 L1404.0,1200.3 L1404.8,1202.4 L1405.7,1205.2 L1406.6,1207.6 L1407.6,1209.0 L1408.8,1212.0 L1410.4,1213.6 L1412.8,1213.7 L1414.7,1212.4 L1416.6,1210.4 L1418.7,1209.6 L1420.8,1207.9 L1422.9,1206.7 L1425.1,1205.4 L1427.3,1204.5 L1428.0,1204.3"/>
<path class="crv core" stroke="#2EAC6A" d="M177.0,1180.6 L179.5,1180.5 L182.0,1180.5 L184.5,1181.1 L187.0,1180.0 L189.5,1180.0 L192.0,1179.8 L194.5,1180.0 L197.0,1179.3 L199.5,1179.6 L202.0,1179.1 L204.4,1179.1 L206.9,1179.4 L209.4,1178.6 L211.9,1178.8 L214.4,1178.4 L216.9,1178.2 L219.4,1178.4 L221.9,1177.5 L224.4,1178.0 L226.9,1177.8 L229.4,1177.3 L231.8,1176.5 L234.3,1176.8 L236.8,1176.5 L239.3,1176.4 L241.8,1175.6 L244.3,1176.1 L246.8,1175.8 L249.3,1174.7 L251.7,1174.7 L254.2,1174.1 L256.7,1174.7 L259.2,1174.5 L261.7,1174.3 L264.2,1173.6 L266.6,1173.3 L269.1,1172.9 L271.6,1172.3 L274.1,1172.2 L276.5,1171.4 L279.0,1170.6 L281.5,1170.3 L284.0,1169.3 L286.4,1169.5 L288.9,1169.0 L291.4,1168.3 L293.8,1168.3 L296.3,1167.9 L298.8,1167.1 L301.3,1166.6 L303.7,1166.4 L306.2,1166.4 L308.7,1166.4 L311.2,1166.6 L313.7,1167.2 L316.2,1166.7 L318.7,1167.4 L321.2,1167.4 L323.7,1167.7 L326.1,1167.5 L328.6,1167.3 L331.1,1168.3 L333.6,1167.9 L336.1,1168.0 L338.6,1168.9 L341.1,1169.0 L343.6,1168.8 L346.1,1169.1 L348.6,1170.0 L351.1,1169.5 L353.6,1170.2 L356.0,1169.8 L358.5,1170.7 L361.0,1170.2 L363.5,1170.8 L366.0,1170.5 L368.5,1171.2 L371.0,1171.7 L373.5,1171.1 L376.0,1171.5 L378.5,1172.2 L381.0,1172.2 L383.5,1172.1 L386.0,1172.6 L388.5,1172.6 L390.9,1173.2 L393.4,1172.8 L395.9,1173.5 L398.4,1173.5 L400.9,1173.8 L403.4,1173.6 L405.9,1174.2 L408.4,1174.3 L410.9,1174.1 L413.4,1173.9 L415.9,1174.9 L418.4,1174.7 L420.9,1174.2 L423.4,1174.7 L425.9,1174.2 L428.4,1174.4 L430.9,1174.7 L433.4,1174.3 L435.9,1174.0 L438.4,1174.0 L440.9,1173.7 L443.4,1173.7 L445.9,1173.7 L448.4,1173.5 L450.9,1173.3 L453.4,1173.7 L455.9,1173.3 L458.4,1173.7 L460.9,1173.8 L463.4,1173.1 L465.9,1173.3 L468.4,1173.1 L470.9,1172.5 L473.4,1172.5 L475.9,1173.1 L478.4,1172.6 L480.9,1172.8 L483.4,1172.0 L485.9,1172.4 L488.4,1172.5 L490.9,1172.4 L493.4,1171.5 L495.9,1171.8 L498.4,1171.6 L500.8,1171.8 L503.3,1171.0 L505.8,1171.1 L508.3,1171.5 L510.8,1171.0 L513.3,1170.9 L515.8,1171.3 L518.3,1170.5 L520.8,1170.1 L523.3,1170.3 L525.8,1169.9 L528.3,1169.7 L530.8,1170.0 L533.3,1170.3 L535.8,1169.7 L538.3,1169.6 L540.8,1169.1 L543.3,1169.2 L545.8,1169.1 L548.3,1168.8 L550.7,1168.7 L553.2,1168.3 L555.7,1167.7 L558.2,1167.8 L560.7,1167.5 L563.2,1166.9 L565.7,1167.1 L568.2,1167.0 L570.6,1166.1 L573.1,1166.2 L575.6,1166.2 L578.1,1165.6 L580.6,1165.2 L583.1,1165.1 L585.6,1165.0 L588.1,1164.8 L590.5,1164.4 L593.0,1163.6 L595.5,1163.9 L597.9,1163.5 L600.4,1162.1 L602.8,1161.5 L605.1,1160.6 L607.4,1160.3 L609.7,1159.3 L612.0,1157.4 L614.3,1156.7 L616.6,1155.7 L619.0,1155.2 L621.4,1154.9 L623.8,1153.4 L626.2,1152.8 L628.6,1152.4 L631.0,1151.8 L633.4,1151.2 L635.8,1150.1 L638.1,1148.9 L640.4,1148.3 L642.8,1148.0 L645.1,1146.8 L647.4,1145.2 L649.7,1144.8 L651.9,1143.3 L654.1,1142.6 L656.3,1140.6 L658.5,1140.3 L660.7,1138.3 L662.9,1137.4 L665.1,1136.4 L667.3,1135.0 L669.5,1133.6 L671.8,1132.5 L674.1,1131.7 L676.4,1130.5 L678.7,1129.7 L681.0,1128.6 L683.3,1127.9 L685.5,1126.6 L687.7,1125.6 L689.8,1124.1 L692.0,1122.6 L694.1,1121.6 L696.2,1120.7 L698.4,1118.9 L700.5,1117.7 L702.6,1116.7 L704.7,1115.0 L706.8,1114.1 L708.9,1112.8 L711.0,1110.9 L713.1,1109.9 L715.2,1108.1 L717.3,1106.6 L719.4,1105.5 L721.4,1104.2 L723.5,1103.1 L725.6,1100.9 L727.6,1100.1 L729.7,1098.4 L731.7,1096.6 L733.8,1096.0 L735.8,1094.3 L737.8,1092.3 L739.9,1091.7 L741.9,1089.4 L744.0,1088.0 L746.0,1086.8 L748.1,1085.9 L750.1,1083.6 L752.1,1083.0 L754.2,1081.3 L756.2,1079.3 L758.3,1078.4 L760.3,1076.8 L762.4,1075.5 L764.4,1074.2 L766.5,1072.7 L768.5,1071.6 L770.6,1069.3 L772.6,1068.5 L774.6,1066.7 L776.7,1065.6 L778.7,1064.3 L780.7,1062.9 L782.8,1060.8 L784.9,1059.6 L786.9,1058.7 L789.1,1057.3 L791.3,1055.7 L793.7,1055.4 L796.1,1054.1 L798.5,1053.4 L800.9,1053.0 L803.2,1051.9 L805.6,1051.0 L807.9,1050.1 L810.3,1049.3 L812.7,1048.3 L815.1,1047.6 L817.6,1047.9 L820.1,1047.5 L822.6,1047.6 L825.1,1047.8 L827.6,1047.2 L830.1,1047.1 L832.6,1046.8 L835.1,1046.2 L837.5,1046.0 L840.0,1045.1 L842.4,1044.7 L844.8,1045.2 L847.0,1045.9 L849.0,1047.4 L851.2,1049.5 L853.6,1050.3 L856.0,1050.3 L858.5,1051.1 L861.0,1050.8 L863.5,1051.4 L866.0,1051.7 L868.5,1051.5 L871.0,1051.7 L873.5,1052.1 L876.0,1052.2 L878.4,1051.9 L880.9,1052.7 L883.4,1052.3 L885.9,1053.4 L888.4,1053.0 L890.9,1053.4 L893.3,1053.7 L895.8,1054.9 L898.2,1054.8 L900.7,1055.7 L903.1,1056.8 L905.5,1057.5 L907.9,1057.4 L910.2,1058.8 L912.6,1059.8 L914.9,1060.8 L917.2,1061.4 L919.5,1062.4 L921.7,1063.1 L924.0,1064.1 L926.3,1065.7 L928.6,1066.3 L930.8,1067.4 L933.1,1068.6 L935.4,1069.3 L937.7,1070.4 L939.9,1072.3 L942.1,1073.0 L944.3,1074.0 L946.5,1075.7 L948.6,1076.4 L950.7,1078.1 L952.7,1080.3 L954.7,1081.8 L956.6,1083.1 L958.5,1084.1 L960.4,1086.0 L962.3,1087.4 L964.1,1089.3 L966.0,1090.8 L967.8,1092.6 L969.6,1094.8 L971.5,1095.9 L973.3,1097.7 L975.1,1100.2 L976.9,1101.4 L978.6,1103.2 L980.3,1104.7 L982.0,1107.3 L983.7,1109.0 L985.4,1110.7 L987.1,1112.6 L988.8,1113.9 L990.6,1115.8 L992.4,1117.9 L994.2,1119.9 L996.2,1121.5 L998.1,1122.9 L1000.2,1124.2 L1002.2,1125.2 L1004.3,1127.5 L1006.4,1128.0 L1008.5,1129.3 L1010.7,1131.1 L1012.9,1132.4 L1015.1,1133.5 L1017.4,1134.3 L1019.7,1135.1 L1022.0,1136.0 L1024.3,1137.8 L1026.6,1138.9 L1028.9,1139.1 L1031.3,1140.7 L1033.6,1141.2 L1035.9,1142.0 L1038.3,1143.0 L1040.6,1143.4 L1043.0,1144.6 L1045.4,1145.2 L1047.7,1146.4 L1050.1,1146.9 L1052.5,1148.0 L1054.9,1148.7 L1057.4,1148.8 L1059.8,1149.3 L1062.2,1150.6 L1064.7,1150.7 L1067.1,1150.9 L1069.6,1151.4 L1072.0,1152.8 L1074.5,1152.9 L1076.9,1152.9 L1079.4,1153.8 L1081.8,1154.3 L1084.3,1154.6 L1086.8,1155.5 L1089.2,1155.9 L1091.7,1155.4 L1094.2,1155.7 L1096.7,1156.3 L1099.2,1157.0 L1101.7,1157.0 L1104.2,1157.2 L1106.7,1157.3 L1109.2,1157.1 L1111.7,1157.8 L1114.2,1157.2 L1116.7,1158.0 L1119.2,1157.6 L1121.7,1158.0 L1124.2,1158.5 L1126.7,1158.1 L1129.2,1157.7 L1131.7,1158.1 L1134.2,1158.3 L1136.7,1157.6 L1139.2,1157.7 L1141.7,1157.4 L1144.1,1157.8 L1146.6,1157.5 L1149.1,1157.5 L1151.6,1157.1 L1154.1,1157.3 L1156.6,1156.7 L1159.1,1157.3 L1161.6,1157.2 L1164.1,1156.6 L1166.6,1156.4 L1169.1,1156.6 L1171.6,1155.9 L1174.1,1156.2 L1176.6,1155.6 L1179.1,1155.9 L1181.6,1155.3 L1184.1,1155.4 L1186.6,1155.6 L1189.1,1154.6 L1191.6,1155.2 L1194.1,1154.8 L1196.6,1154.5 L1199.1,1154.4 L1201.6,1154.0 L1204.0,1154.0 L1206.5,1154.3 L1209.0,1153.6 L1211.5,1154.1 L1214.0,1154.2 L1216.5,1154.2 L1219.0,1154.0 L1221.5,1153.8 L1224.0,1153.1 L1226.5,1153.8 L1229.0,1153.0 L1231.5,1153.7 L1234.0,1153.8 L1236.5,1153.6 L1239.0,1153.6 L1241.5,1153.5 L1244.0,1153.9 L1246.5,1153.9 L1249.0,1153.9 L1251.5,1154.1 L1254.0,1155.0 L1256.5,1155.3 L1259.0,1154.8 L1261.5,1154.9 L1264.0,1155.4 L1266.4,1155.8 L1268.9,1156.5 L1271.3,1157.5 L1273.7,1158.1 L1276.1,1158.7 L1278.6,1159.0 L1281.1,1159.7 L1283.6,1159.4 L1286.1,1159.5 L1288.6,1159.6 L1291.1,1160.0 L1293.6,1159.4 L1296.1,1159.8 L1298.6,1159.4 L1301.1,1160.0 L1303.6,1159.5 L1306.1,1159.6 L1308.6,1160.0 L1311.1,1159.8 L1313.6,1159.3 L1316.1,1159.3 L1318.6,1160.2 L1321.1,1159.2 L1323.6,1159.5 L1326.1,1160.2 L1328.6,1159.3 L1331.1,1159.5 L1333.6,1159.6 L1336.1,1159.5 L1338.6,1159.9 L1341.1,1160.1 L1343.5,1160.0 L1346.0,1160.0 L1348.5,1161.0 L1351.0,1161.3 L1353.5,1161.4 L1355.9,1161.4 L1358.4,1162.2 L1360.9,1162.7 L1363.3,1163.0 L1365.8,1163.8 L1368.3,1163.8 L1370.8,1164.3 L1373.2,1164.4 L1375.6,1165.3 L1378.1,1166.1 L1380.5,1166.7 L1382.9,1167.1 L1385.2,1168.8 L1387.4,1169.8 L1389.4,1171.1 L1391.1,1173.0 L1392.6,1175.4 L1394.0,1176.9 L1395.2,1179.6 L1396.4,1181.9 L1397.5,1183.9 L1398.6,1186.5 L1399.6,1188.4 L1400.5,1190.7 L1401.4,1192.8 L1402.3,1195.8 L1403.1,1197.6 L1404.0,1200.3 L1404.8,1202.4 L1405.7,1205.2 L1406.6,1207.6 L1407.6,1209.0 L1408.8,1212.0 L1410.4,1213.6 L1412.8,1213.7 L1414.7,1212.4 L1416.6,1210.4 L1418.7,1209.6 L1420.8,1207.9 L1422.9,1206.7 L1425.1,1205.4 L1427.3,1204.5 L1428.0,1204.3"/>
<path class="crv halo" stroke="#F54040" d="M177.0,998.4 L179.5,997.6 L182.1,997.5 L184.5,996.4 L186.9,996.1 L189.3,995.9 L191.5,994.0 L193.8,993.7 L196.0,992.3 L198.2,990.8 L200.3,990.0 L202.5,988.3 L204.7,987.6 L206.9,985.6 L209.0,984.4 L211.2,983.8 L213.4,982.3 L215.7,980.9 L217.9,980.1 L220.2,978.8 L222.4,977.8 L224.6,976.8 L226.9,975.8 L229.1,973.8 L231.4,973.2 L233.7,972.6 L236.0,971.1 L238.3,970.6 L240.7,969.2 L243.1,969.4 L245.6,968.8 L248.1,968.8 L250.6,968.4 L253.1,968.1 L255.5,967.0 L258.0,967.4 L260.5,966.6 L263.0,966.4 L265.5,966.1 L268.0,966.1 L270.4,965.9 L272.9,966.6 L275.3,966.7 L277.6,967.9 L279.7,969.4 L281.9,971.1 L284.1,971.9 L286.5,972.6 L288.9,973.6 L291.3,974.1 L293.7,974.4 L296.2,974.8 L298.6,975.8 L301.0,976.8 L303.4,977.1 L305.9,977.2 L308.3,978.2 L310.7,978.8 L313.1,979.6 L315.5,980.3 L317.9,981.4 L320.3,981.6 L322.6,982.5 L325.0,983.6 L327.3,984.7 L329.6,985.5 L332.0,986.1 L334.3,987.2 L336.7,987.6 L339.2,988.8 L341.6,988.6 L344.1,988.9 L346.6,990.1 L349.1,989.9 L351.6,990.8 L354.1,990.9 L356.6,991.0 L359.1,990.8 L361.6,991.7 L364.1,991.2 L366.6,992.2 L369.1,992.2 L371.6,991.8 L374.1,991.7 L376.6,992.5 L379.1,992.1 L381.6,991.8 L384.1,992.1 L386.6,991.9 L389.1,992.0 L391.6,992.2 L394.1,992.5 L396.6,992.3 L399.1,991.7 L401.6,992.0 L404.1,991.9 L406.6,992.4 L409.1,991.5 L411.6,991.9 L414.1,992.2 L416.6,991.7 L419.1,991.5 L421.6,991.8 L424.0,991.5 L426.5,992.1 L429.0,991.2 L431.5,991.2 L434.0,991.1 L436.5,991.6 L439.0,991.2 L441.5,991.7 L444.0,991.7 L446.5,991.6 L449.0,990.9 L451.5,990.6 L454.0,991.0 L456.5,991.5 L459.0,991.3 L461.5,990.5 L464.0,991.1 L466.5,991.3 L469.0,991.3 L471.5,991.0 L474.0,991.1 L476.5,991.0 L479.0,990.5 L481.5,990.1 L484.0,990.7 L486.5,990.0 L489.0,990.1 L491.5,990.6 L494.0,990.1 L496.5,989.9 L499.0,990.1 L501.5,989.3 L504.0,989.8 L506.5,989.5 L509.0,988.8 L511.5,988.5 L514.0,988.0 L516.5,988.4 L518.9,987.4 L521.4,986.8 L523.9,987.3 L526.3,986.6 L528.8,986.3 L531.3,985.9 L533.7,984.9 L536.2,984.5 L538.7,984.6 L541.2,983.9 L543.7,984.1 L546.2,984.1 L548.7,983.8 L551.2,983.5 L553.7,982.7 L556.2,982.6 L558.7,982.9 L561.1,981.7 L563.6,981.5 L566.0,980.4 L568.4,980.5 L570.7,978.8 L573.0,978.0 L575.3,977.0 L577.5,976.1 L579.7,975.1 L581.9,973.7 L584.1,972.2 L586.3,970.8 L588.6,970.3 L590.8,969.4 L593.0,967.4 L595.3,967.0 L597.5,965.3 L599.7,964.5 L602.0,963.4 L604.2,962.4 L606.5,961.8 L608.9,960.8 L611.3,959.9 L613.8,959.7 L616.3,958.9 L618.7,958.1 L621.0,957.2 L623.3,956.2 L625.5,954.8 L627.6,953.5 L629.8,952.1 L631.9,951.1 L634.0,949.6 L636.1,948.7 L638.1,947.3 L640.2,945.4 L642.2,944.1 L644.2,942.8 L646.1,940.7 L647.7,939.2 L648.7,936.7 L649.3,934.3 L650.1,932.2 L651.8,930.0 L654.3,932.8 L656.3,931.8 L658.2,930.4 L660.1,928.6 L661.9,927.2 L663.8,924.9 L665.6,923.6 L667.4,921.4 L669.2,919.9 L670.9,918.2 L672.6,915.8 L674.2,913.8 L675.9,912.6 L677.5,910.7 L679.1,908.7 L680.7,906.4 L682.4,904.9 L683.9,902.4 L685.5,901.0 L687.1,899.0 L688.6,897.1 L690.2,894.9 L691.7,892.7 L693.1,891.2 L694.6,888.9 L696.0,887.1 L697.5,884.7 L698.9,882.4 L700.4,880.8 L701.8,878.9 L703.3,877.1 L704.8,875.1 L706.3,872.3 L707.9,871.0 L709.5,868.6 L711.2,867.2 L713.0,865.2 L715.0,863.5 L717.1,862.3 L719.3,861.1 L721.5,860.1 L723.8,859.0 L726.0,857.9 L728.3,856.6 L730.6,855.9 L732.9,854.6 L735.3,854.0 L737.6,852.9 L739.8,851.9 L741.9,850.0 L743.9,849.0 L745.8,847.1 L747.7,845.6 L749.7,843.8 L751.8,842.8 L753.9,841.6 L756.0,839.8 L758.0,838.7 L759.9,840.2 L761.8,841.9 L763.7,845.2 L765.6,846.3 L767.8,847.1 L770.1,847.2 L772.7,846.5 L775.3,846.3 L778.0,846.0 L780.5,846.5 L783.0,847.3 L785.3,847.7 L787.5,849.2 L789.6,849.9 L791.7,851.7 L793.7,853.1 L795.6,854.6 L797.3,857.0 L798.8,859.1 L800.1,860.6 L801.5,862.9 L803.1,865.3 L805.0,867.0 L807.2,867.6 L809.7,868.7 L812.2,869.5 L814.6,870.0 L816.8,871.1 L818.6,872.3 L820.4,874.2 L822.2,876.2 L824.0,878.3 L825.8,879.4 L827.6,881.3 L829.4,882.6 L831.2,885.0 L833.0,886.5 L834.8,888.5 L836.6,889.7 L838.5,891.8 L840.4,893.4 L842.3,894.8 L844.3,896.0 L846.4,897.7 L848.5,899.4 L850.6,900.1 L852.8,901.2 L855.0,902.8 L857.2,903.7 L859.5,905.4 L861.7,906.6 L863.9,907.9 L866.1,908.9 L868.4,909.8 L870.6,910.5 L872.9,912.1 L875.2,913.1 L877.5,914.1 L879.8,915.1 L882.0,916.3 L884.3,916.9 L886.5,918.4 L888.7,919.4 L890.9,920.5 L893.0,921.7 L895.1,922.9 L897.1,924.7 L899.1,926.0 L901.1,927.6 L903.1,929.5 L905.1,930.9 L907.1,932.4 L909.1,934.3 L911.1,935.0 L913.1,936.8 L915.1,937.9 L917.2,939.6 L919.3,941.5 L921.4,942.0 L923.5,944.0 L925.7,945.5 L927.8,946.4 L929.9,948.1 L932.1,949.0 L934.3,950.2 L936.4,951.6 L938.7,952.4 L940.9,953.6 L943.2,954.7 L945.4,956.4 L947.8,956.6 L950.1,957.3 L952.5,958.8 L954.9,958.7 L957.3,960.2 L959.7,960.8 L962.1,961.3 L964.5,961.8 L967.0,962.2 L969.4,962.8 L971.8,963.4 L974.2,964.3 L976.6,965.0 L979.0,966.2 L981.4,966.5 L983.8,967.5 L986.3,967.9 L988.7,968.0 L991.1,969.0 L993.5,969.2 L995.9,969.8 L998.4,971.3 L1000.8,971.3 L1003.2,971.8 L1005.6,972.3 L1008.0,973.5 L1010.4,973.9 L1012.9,974.1 L1015.3,975.4 L1017.7,975.5 L1020.2,976.6 L1022.6,976.9 L1025.1,977.4 L1027.5,977.8 L1030.0,978.4 L1032.5,979.1 L1035.0,979.3 L1037.4,978.9 L1039.9,979.6 L1042.4,979.6 L1044.9,979.7 L1047.4,980.0 L1049.9,980.2 L1052.4,981.1 L1054.9,981.1 L1057.4,981.3 L1059.9,981.3 L1062.4,981.1 L1064.9,981.2 L1067.4,981.4 L1069.9,981.3 L1072.4,981.5 L1074.9,982.0 L1077.4,981.3 L1079.9,981.6 L1082.4,981.8 L1084.9,982.1 L1087.4,982.1 L1089.9,982.2 L1092.4,981.6 L1094.9,981.7 L1097.4,981.8 L1099.9,981.9 L1102.4,982.4 L1104.9,982.7 L1107.4,982.4 L1109.9,981.8 L1112.4,982.0 L1114.9,982.5 L1117.4,982.6 L1119.9,982.3 L1122.4,981.9 L1124.9,981.8 L1127.4,981.9 L1129.9,981.9 L1132.4,981.1 L1134.8,980.7 L1137.3,980.1 L1139.8,979.8 L1142.3,980.1 L1144.8,979.4 L1147.2,979.4 L1149.7,978.0 L1152.1,977.8 L1154.6,977.7 L1157.0,977.1 L1159.5,976.0 L1161.9,975.9 L1164.4,975.7 L1166.8,975.3 L1169.3,974.6 L1171.7,973.9 L1174.2,974.2 L1176.7,973.2 L1179.1,973.0 L1181.6,972.3 L1184.0,971.4 L1186.5,971.1 L1188.9,970.5 L1191.4,970.2 L1193.9,969.9 L1196.4,969.8 L1198.8,969.4 L1201.3,969.2 L1203.8,969.4 L1206.3,968.5 L1208.8,968.4 L1211.3,969.0 L1213.8,968.6 L1216.3,968.4 L1218.8,968.2 L1221.3,968.4 L1223.8,968.0 L1226.3,968.6 L1228.8,968.6 L1231.3,968.0 L1233.8,967.7 L1236.3,968.5 L1238.8,967.9 L1241.3,968.2 L1243.8,968.3 L1246.3,968.2 L1248.8,968.2 L1251.3,967.8 L1253.8,968.1 L1256.3,967.6 L1258.8,967.4 L1261.3,967.6 L1263.8,967.4 L1266.3,967.8 L1268.8,967.8 L1271.3,967.0 L1273.8,967.0 L1276.3,967.2 L1278.8,967.2 L1281.3,967.6 L1283.8,967.5 L1286.3,967.3 L1288.8,966.7 L1291.3,966.3 L1293.7,965.5 L1296.2,965.2 L1298.7,964.3 L1301.1,964.7 L1303.6,963.7 L1306.0,963.0 L1308.5,962.5 L1310.9,961.7 L1313.2,961.2 L1315.6,959.9 L1318.0,959.9 L1320.3,961.1 L1322.6,962.0 L1324.9,963.1 L1327.2,964.5 L1329.4,965.5 L1331.7,967.2 L1334.1,967.5 L1336.5,967.4 L1339.0,966.8 L1341.6,966.6 L1344.2,966.5 L1346.8,966.3 L1349.2,966.1 L1351.6,967.1 L1353.7,968.4 L1355.4,970.1 L1357.1,972.3 L1358.9,974.1 L1361.1,975.2 L1363.5,976.1 L1365.9,976.6 L1368.3,976.8 L1370.8,978.0 L1373.2,978.2 L1375.7,978.6 L1378.1,979.5 L1380.6,980.2 L1382.9,981.0 L1385.3,981.8 L1387.6,982.6 L1389.9,983.5 L1392.3,983.9 L1394.6,985.3 L1396.9,985.8 L1399.3,986.6 L1401.6,987.4 L1404.0,988.5 L1406.4,988.9 L1408.7,990.4 L1411.1,991.3 L1413.4,992.1 L1415.8,992.3 L1418.2,993.6 L1420.6,994.6 L1422.9,994.5 L1425.3,995.5 L1426.0,995.8"/>
<path class="crv core" stroke="#F54040" d="M177.0,998.4 L179.5,997.6 L182.1,997.5 L184.5,996.4 L186.9,996.1 L189.3,995.9 L191.5,994.0 L193.8,993.7 L196.0,992.3 L198.2,990.8 L200.3,990.0 L202.5,988.3 L204.7,987.6 L206.9,985.6 L209.0,984.4 L211.2,983.8 L213.4,982.3 L215.7,980.9 L217.9,980.1 L220.2,978.8 L222.4,977.8 L224.6,976.8 L226.9,975.8 L229.1,973.8 L231.4,973.2 L233.7,972.6 L236.0,971.1 L238.3,970.6 L240.7,969.2 L243.1,969.4 L245.6,968.8 L248.1,968.8 L250.6,968.4 L253.1,968.1 L255.5,967.0 L258.0,967.4 L260.5,966.6 L263.0,966.4 L265.5,966.1 L268.0,966.1 L270.4,965.9 L272.9,966.6 L275.3,966.7 L277.6,967.9 L279.7,969.4 L281.9,971.1 L284.1,971.9 L286.5,972.6 L288.9,973.6 L291.3,974.1 L293.7,974.4 L296.2,974.8 L298.6,975.8 L301.0,976.8 L303.4,977.1 L305.9,977.2 L308.3,978.2 L310.7,978.8 L313.1,979.6 L315.5,980.3 L317.9,981.4 L320.3,981.6 L322.6,982.5 L325.0,983.6 L327.3,984.7 L329.6,985.5 L332.0,986.1 L334.3,987.2 L336.7,987.6 L339.2,988.8 L341.6,988.6 L344.1,988.9 L346.6,990.1 L349.1,989.9 L351.6,990.8 L354.1,990.9 L356.6,991.0 L359.1,990.8 L361.6,991.7 L364.1,991.2 L366.6,992.2 L369.1,992.2 L371.6,991.8 L374.1,991.7 L376.6,992.5 L379.1,992.1 L381.6,991.8 L384.1,992.1 L386.6,991.9 L389.1,992.0 L391.6,992.2 L394.1,992.5 L396.6,992.3 L399.1,991.7 L401.6,992.0 L404.1,991.9 L406.6,992.4 L409.1,991.5 L411.6,991.9 L414.1,992.2 L416.6,991.7 L419.1,991.5 L421.6,991.8 L424.0,991.5 L426.5,992.1 L429.0,991.2 L431.5,991.2 L434.0,991.1 L436.5,991.6 L439.0,991.2 L441.5,991.7 L444.0,991.7 L446.5,991.6 L449.0,990.9 L451.5,990.6 L454.0,991.0 L456.5,991.5 L459.0,991.3 L461.5,990.5 L464.0,991.1 L466.5,991.3 L469.0,991.3 L471.5,991.0 L474.0,991.1 L476.5,991.0 L479.0,990.5 L481.5,990.1 L484.0,990.7 L486.5,990.0 L489.0,990.1 L491.5,990.6 L494.0,990.1 L496.5,989.9 L499.0,990.1 L501.5,989.3 L504.0,989.8 L506.5,989.5 L509.0,988.8 L511.5,988.5 L514.0,988.0 L516.5,988.4 L518.9,987.4 L521.4,986.8 L523.9,987.3 L526.3,986.6 L528.8,986.3 L531.3,985.9 L533.7,984.9 L536.2,984.5 L538.7,984.6 L541.2,983.9 L543.7,984.1 L546.2,984.1 L548.7,983.8 L551.2,983.5 L553.7,982.7 L556.2,982.6 L558.7,982.9 L561.1,981.7 L563.6,981.5 L566.0,980.4 L568.4,980.5 L570.7,978.8 L573.0,978.0 L575.3,977.0 L577.5,976.1 L579.7,975.1 L581.9,973.7 L584.1,972.2 L586.3,970.8 L588.6,970.3 L590.8,969.4 L593.0,967.4 L595.3,967.0 L597.5,965.3 L599.7,964.5 L602.0,963.4 L604.2,962.4 L606.5,961.8 L608.9,960.8 L611.3,959.9 L613.8,959.7 L616.3,958.9 L618.7,958.1 L621.0,957.2 L623.3,956.2 L625.5,954.8 L627.6,953.5 L629.8,952.1 L631.9,951.1 L634.0,949.6 L636.1,948.7 L638.1,947.3 L640.2,945.4 L642.2,944.1 L644.2,942.8 L646.1,940.7 L647.7,939.2 L648.7,936.7 L649.3,934.3 L650.1,932.2 L651.8,930.0 L654.3,932.8 L656.3,931.8 L658.2,930.4 L660.1,928.6 L661.9,927.2 L663.8,924.9 L665.6,923.6 L667.4,921.4 L669.2,919.9 L670.9,918.2 L672.6,915.8 L674.2,913.8 L675.9,912.6 L677.5,910.7 L679.1,908.7 L680.7,906.4 L682.4,904.9 L683.9,902.4 L685.5,901.0 L687.1,899.0 L688.6,897.1 L690.2,894.9 L691.7,892.7 L693.1,891.2 L694.6,888.9 L696.0,887.1 L697.5,884.7 L698.9,882.4 L700.4,880.8 L701.8,878.9 L703.3,877.1 L704.8,875.1 L706.3,872.3 L707.9,871.0 L709.5,868.6 L711.2,867.2 L713.0,865.2 L715.0,863.5 L717.1,862.3 L719.3,861.1 L721.5,860.1 L723.8,859.0 L726.0,857.9 L728.3,856.6 L730.6,855.9 L732.9,854.6 L735.3,854.0 L737.6,852.9 L739.8,851.9 L741.9,850.0 L743.9,849.0 L745.8,847.1 L747.7,845.6 L749.7,843.8 L751.8,842.8 L753.9,841.6 L756.0,839.8 L758.0,838.7 L759.9,840.2 L761.8,841.9 L763.7,845.2 L765.6,846.3 L767.8,847.1 L770.1,847.2 L772.7,846.5 L775.3,846.3 L778.0,846.0 L780.5,846.5 L783.0,847.3 L785.3,847.7 L787.5,849.2 L789.6,849.9 L791.7,851.7 L793.7,853.1 L795.6,854.6 L797.3,857.0 L798.8,859.1 L800.1,860.6 L801.5,862.9 L803.1,865.3 L805.0,867.0 L807.2,867.6 L809.7,868.7 L812.2,869.5 L814.6,870.0 L816.8,871.1 L818.6,872.3 L820.4,874.2 L822.2,876.2 L824.0,878.3 L825.8,879.4 L827.6,881.3 L829.4,882.6 L831.2,885.0 L833.0,886.5 L834.8,888.5 L836.6,889.7 L838.5,891.8 L840.4,893.4 L842.3,894.8 L844.3,896.0 L846.4,897.7 L848.5,899.4 L850.6,900.1 L852.8,901.2 L855.0,902.8 L857.2,903.7 L859.5,905.4 L861.7,906.6 L863.9,907.9 L866.1,908.9 L868.4,909.8 L870.6,910.5 L872.9,912.1 L875.2,913.1 L877.5,914.1 L879.8,915.1 L882.0,916.3 L884.3,916.9 L886.5,918.4 L888.7,919.4 L890.9,920.5 L893.0,921.7 L895.1,922.9 L897.1,924.7 L899.1,926.0 L901.1,927.6 L903.1,929.5 L905.1,930.9 L907.1,932.4 L909.1,934.3 L911.1,935.0 L913.1,936.8 L915.1,937.9 L917.2,939.6 L919.3,941.5 L921.4,942.0 L923.5,944.0 L925.7,945.5 L927.8,946.4 L929.9,948.1 L932.1,949.0 L934.3,950.2 L936.4,951.6 L938.7,952.4 L940.9,953.6 L943.2,954.7 L945.4,956.4 L947.8,956.6 L950.1,957.3 L952.5,958.8 L954.9,958.7 L957.3,960.2 L959.7,960.8 L962.1,961.3 L964.5,961.8 L967.0,962.2 L969.4,962.8 L971.8,963.4 L974.2,964.3 L976.6,965.0 L979.0,966.2 L981.4,966.5 L983.8,967.5 L986.3,967.9 L988.7,968.0 L991.1,969.0 L993.5,969.2 L995.9,969.8 L998.4,971.3 L1000.8,971.3 L1003.2,971.8 L1005.6,972.3 L1008.0,973.5 L1010.4,973.9 L1012.9,974.1 L1015.3,975.4 L1017.7,975.5 L1020.2,976.6 L1022.6,976.9 L1025.1,977.4 L1027.5,977.8 L1030.0,978.4 L1032.5,979.1 L1035.0,979.3 L1037.4,978.9 L1039.9,979.6 L1042.4,979.6 L1044.9,979.7 L1047.4,980.0 L1049.9,980.2 L1052.4,981.1 L1054.9,981.1 L1057.4,981.3 L1059.9,981.3 L1062.4,981.1 L1064.9,981.2 L1067.4,981.4 L1069.9,981.3 L1072.4,981.5 L1074.9,982.0 L1077.4,981.3 L1079.9,981.6 L1082.4,981.8 L1084.9,982.1 L1087.4,982.1 L1089.9,982.2 L1092.4,981.6 L1094.9,981.7 L1097.4,981.8 L1099.9,981.9 L1102.4,982.4 L1104.9,982.7 L1107.4,982.4 L1109.9,981.8 L1112.4,982.0 L1114.9,982.5 L1117.4,982.6 L1119.9,982.3 L1122.4,981.9 L1124.9,981.8 L1127.4,981.9 L1129.9,981.9 L1132.4,981.1 L1134.8,980.7 L1137.3,980.1 L1139.8,979.8 L1142.3,980.1 L1144.8,979.4 L1147.2,979.4 L1149.7,978.0 L1152.1,977.8 L1154.6,977.7 L1157.0,977.1 L1159.5,976.0 L1161.9,975.9 L1164.4,975.7 L1166.8,975.3 L1169.3,974.6 L1171.7,973.9 L1174.2,974.2 L1176.7,973.2 L1179.1,973.0 L1181.6,972.3 L1184.0,971.4 L1186.5,971.1 L1188.9,970.5 L1191.4,970.2 L1193.9,969.9 L1196.4,969.8 L1198.8,969.4 L1201.3,969.2 L1203.8,969.4 L1206.3,968.5 L1208.8,968.4 L1211.3,969.0 L1213.8,968.6 L1216.3,968.4 L1218.8,968.2 L1221.3,968.4 L1223.8,968.0 L1226.3,968.6 L1228.8,968.6 L1231.3,968.0 L1233.8,967.7 L1236.3,968.5 L1238.8,967.9 L1241.3,968.2 L1243.8,968.3 L1246.3,968.2 L1248.8,968.2 L1251.3,967.8 L1253.8,968.1 L1256.3,967.6 L1258.8,967.4 L1261.3,967.6 L1263.8,967.4 L1266.3,967.8 L1268.8,967.8 L1271.3,967.0 L1273.8,967.0 L1276.3,967.2 L1278.8,967.2 L1281.3,967.6 L1283.8,967.5 L1286.3,967.3 L1288.8,966.7 L1291.3,966.3 L1293.7,965.5 L1296.2,965.2 L1298.7,964.3 L1301.1,964.7 L1303.6,963.7 L1306.0,963.0 L1308.5,962.5 L1310.9,961.7 L1313.2,961.2 L1315.6,959.9 L1318.0,959.9 L1320.3,961.1 L1322.6,962.0 L1324.9,963.1 L1327.2,964.5 L1329.4,965.5 L1331.7,967.2 L1334.1,967.5 L1336.5,967.4 L1339.0,966.8 L1341.6,966.6 L1344.2,966.5 L1346.8,966.3 L1349.2,966.1 L1351.6,967.1 L1353.7,968.4 L1355.4,970.1 L1357.1,972.3 L1358.9,974.1 L1361.1,975.2 L1363.5,976.1 L1365.9,976.6 L1368.3,976.8 L1370.8,978.0 L1373.2,978.2 L1375.7,978.6 L1378.1,979.5 L1380.6,980.2 L1382.9,981.0 L1385.3,981.8 L1387.6,982.6 L1389.9,983.5 L1392.3,983.9 L1394.6,985.3 L1396.9,985.8 L1399.3,986.6 L1401.6,987.4 L1404.0,988.5 L1406.4,988.9 L1408.7,990.4 L1411.1,991.3 L1413.4,992.1 L1415.8,992.3 L1418.2,993.6 L1420.6,994.6 L1422.9,994.5 L1425.3,995.5 L1426.0,995.8"/>
<path class="crv halo" stroke="#B474DE" d="M177.0,790.0 L179.5,789.3 L181.9,789.2 L184.4,788.5 L186.8,788.2 L189.2,787.5 L191.6,786.9 L194.0,785.7 L196.4,785.3 L198.7,784.5 L201.1,783.7 L203.5,782.3 L205.9,782.5 L208.3,781.4 L210.7,780.5 L213.1,779.9 L215.5,779.3 L217.9,778.7 L220.3,777.7 L222.7,777.0 L225.1,776.5 L227.5,776.2 L229.9,775.2 L232.3,774.1 L234.7,773.8 L237.1,772.9 L239.6,772.0 L242.0,772.3 L244.4,771.0 L246.8,770.6 L249.2,769.8 L251.7,768.9 L254.1,769.3 L256.6,769.0 L259.1,768.0 L261.6,768.0 L264.1,767.9 L266.6,767.7 L269.1,768.2 L271.7,768.4 L274.2,768.5 L276.7,768.5 L279.2,768.0 L281.7,768.4 L284.2,768.9 L286.7,769.3 L289.2,769.2 L291.7,769.5 L294.2,770.2 L296.6,769.7 L299.1,770.2 L301.6,770.6 L304.1,771.6 L306.6,771.2 L309.0,771.3 L311.5,772.0 L314.0,772.5 L316.5,772.3 L319.0,773.3 L321.5,772.9 L324.0,773.5 L326.5,773.2 L329.0,774.0 L331.5,773.4 L334.0,774.1 L336.5,774.3 L339.0,773.8 L341.5,773.7 L344.0,774.3 L346.5,774.2 L349.0,774.3 L351.5,774.6 L354.0,774.3 L356.5,774.3 L359.0,774.3 L361.5,774.2 L364.0,774.1 L366.5,773.9 L368.9,773.9 L371.4,773.9 L373.9,773.8 L376.4,774.3 L378.9,773.6 L381.4,773.6 L383.9,773.9 L386.4,773.6 L388.9,773.4 L391.4,773.5 L393.9,773.5 L396.4,773.6 L398.9,773.7 L401.4,773.5 L403.9,772.9 L406.4,772.8 L408.9,772.6 L411.4,772.3 L413.9,772.9 L416.4,771.9 L418.9,771.9 L421.4,772.2 L423.9,772.0 L426.4,771.5 L428.9,772.0 L431.4,771.4 L433.9,771.4 L436.4,770.8 L438.9,771.4 L441.4,770.5 L443.9,770.6 L446.4,771.0 L448.9,770.9 L451.4,770.7 L453.9,770.5 L456.3,769.8 L458.8,769.4 L461.3,769.7 L463.8,769.2 L466.3,769.9 L468.8,768.8 L471.3,769.0 L473.8,768.7 L476.3,768.4 L478.8,768.7 L481.3,768.2 L483.8,768.9 L486.3,768.5 L488.8,768.1 L491.3,768.4 L493.8,768.2 L496.3,767.7 L498.8,768.1 L501.3,768.0 L503.8,767.6 L506.3,767.2 L508.8,767.7 L511.3,767.6 L513.8,766.9 L516.3,766.5 L518.8,767.2 L521.3,766.9 L523.8,766.4 L526.3,766.7 L528.8,766.3 L531.3,766.9 L533.8,766.2 L536.3,766.0 L538.8,765.8 L541.3,766.0 L543.8,766.6 L546.3,765.7 L548.8,765.8 L551.2,766.3 L553.7,765.2 L556.2,765.3 L558.7,765.7 L561.2,764.8 L563.7,765.4 L566.2,765.0 L568.7,764.0 L571.2,764.1 L573.6,763.6 L576.1,763.1 L578.5,762.0 L580.8,761.3 L583.2,760.3 L585.6,759.5 L587.9,758.5 L590.2,758.3 L592.5,757.3 L594.9,755.9 L597.2,755.3 L599.5,754.2 L601.8,753.0 L604.1,752.2 L606.5,751.9 L608.8,750.3 L611.1,749.6 L613.4,749.0 L615.7,747.4 L618.0,747.0 L620.4,745.4 L622.7,745.0 L624.9,744.1 L627.2,743.0 L629.4,742.0 L631.7,740.6 L633.9,739.7 L636.1,737.9 L638.3,736.9 L640.5,735.4 L642.7,734.1 L645.0,733.3 L647.1,732.4 L649.3,731.2 L651.4,729.1 L653.5,728.6 L655.5,726.4 L657.4,724.9 L659.4,723.9 L661.3,722.4 L663.3,720.6 L665.2,718.7 L667.2,717.2 L669.1,716.0 L671.1,714.0 L673.0,712.9 L675.0,711.3 L676.9,709.4 L678.9,708.3 L680.8,706.2 L682.8,705.0 L684.7,703.3 L686.7,701.5 L688.6,700.1 L690.6,698.6 L692.3,696.8 L693.9,694.5 L695.4,693.3 L696.9,691.2 L698.3,688.2 L699.7,687.0 L701.1,684.5 L702.6,682.1 L704.1,680.8 L705.6,678.4 L707.1,676.7 L708.6,674.8 L710.1,672.5 L711.6,670.1 L713.2,668.9 L714.8,666.8 L716.5,665.2 L718.2,662.7 L719.9,661.4 L721.5,659.6 L723.1,657.2 L724.6,655.2 L725.9,653.0 L727.0,650.4 L728.1,648.4 L729.2,646.2 L730.3,643.7 L731.7,642.3 L733.2,640.0 L734.8,638.2 L736.4,636.0 L738.0,634.2 L739.6,632.6 L741.2,630.5 L742.9,628.7 L744.5,626.6 L746.2,624.9 L747.9,623.4 L750.1,621.9 L752.8,622.2 L755.5,622.4 L757.9,621.2 L760.0,620.8 L762.0,618.8 L763.9,617.1 L765.9,616.1 L768.0,614.6 L770.1,613.1 L772.3,612.1 L774.6,610.0 L776.8,609.2 L779.1,608.3 L781.3,607.5 L783.6,606.4 L786.0,605.7 L788.4,605.4 L790.9,606.0 L793.3,606.9 L795.8,608.4 L798.0,609.7 L800.2,611.0 L802.2,612.6 L804.2,613.3 L806.0,615.6 L807.9,617.0 L809.6,619.0 L811.4,620.4 L813.0,622.4 L814.6,624.7 L816.3,625.8 L817.9,628.0 L819.6,630.0 L821.3,632.1 L823.3,633.0 L825.4,635.0 L827.6,635.7 L829.7,637.1 L831.7,638.8 L833.4,640.7 L834.6,643.1 L835.4,645.6 L836.2,647.5 L837.1,650.4 L838.3,652.4 L840.2,653.8 L842.2,655.7 L844.3,657.2 L846.3,658.2 L848.4,660.0 L850.4,660.7 L852.4,662.3 L854.3,664.5 L856.3,665.6 L858.2,667.5 L860.1,669.0 L861.9,670.4 L863.5,672.9 L864.8,675.1 L866.3,676.6 L868.1,678.4 L870.2,680.3 L872.3,681.7 L874.4,682.9 L876.6,683.8 L878.7,685.0 L880.9,686.3 L883.0,687.3 L885.2,689.0 L887.3,690.0 L889.4,691.2 L891.6,692.8 L893.7,693.8 L895.8,695.5 L897.9,697.1 L900.0,698.4 L901.9,700.3 L903.6,702.1 L905.2,703.8 L906.9,706.0 L908.5,707.4 L910.4,709.4 L912.4,710.4 L914.4,712.1 L916.5,714.0 L918.5,715.0 L920.6,716.4 L922.6,718.1 L924.6,719.1 L926.6,721.1 L928.6,721.9 L930.6,723.6 L932.6,725.0 L934.7,726.4 L937.0,728.0 L939.5,727.6 L942.0,728.5 L944.3,729.7 L946.4,731.1 L948.5,732.6 L950.5,733.8 L952.4,735.2 L954.4,737.4 L956.4,738.2 L958.4,739.5 L960.5,741.1 L962.6,742.7 L964.7,744.5 L966.9,745.5 L969.1,746.5 L971.4,747.5 L973.8,748.6 L976.1,749.3 L978.5,749.8 L980.9,750.2 L983.3,750.9 L985.8,752.1 L988.2,752.5 L990.6,753.2 L993.1,753.0 L995.5,754.3 L998.0,754.3 L1000.4,755.3 L1002.9,755.4 L1005.4,755.8 L1007.8,756.5 L1010.3,756.7 L1012.8,757.2 L1015.2,757.0 L1017.7,757.8 L1020.2,757.9 L1022.7,757.9 L1025.2,758.3 L1027.6,758.9 L1030.1,758.9 L1032.6,759.7 L1035.1,759.2 L1037.6,759.4 L1040.1,760.6 L1042.6,760.1 L1045.1,760.6 L1047.6,760.5 L1050.1,760.7 L1052.5,761.1 L1055.0,761.6 L1057.5,761.1 L1060.0,762.0 L1062.5,762.3 L1065.0,762.0 L1067.5,761.9 L1070.0,761.7 L1072.5,761.7 L1075.0,761.8 L1077.5,762.2 L1080.0,761.3 L1082.5,761.9 L1085.0,761.6 L1087.5,760.8 L1090.0,760.7 L1092.5,761.2 L1095.0,760.9 L1097.5,760.3 L1100.0,760.6 L1102.5,759.7 L1105.0,759.6 L1107.4,759.0 L1109.9,759.3 L1112.4,758.4 L1114.9,758.2 L1117.4,758.4 L1119.8,757.8 L1122.3,757.6 L1124.8,757.3 L1127.3,756.9 L1129.7,756.1 L1132.2,756.2 L1134.7,755.2 L1137.1,755.0 L1139.6,754.7 L1142.1,753.9 L1144.5,753.3 L1146.9,753.3 L1149.4,752.8 L1151.8,751.8 L1154.2,751.2 L1156.6,750.4 L1159.1,750.2 L1161.5,749.7 L1164.0,749.6 L1166.4,748.2 L1168.9,748.7 L1171.4,748.5 L1173.9,747.6 L1176.4,747.8 L1178.9,747.7 L1181.4,747.4 L1183.9,747.0 L1186.4,747.2 L1188.9,747.4 L1191.4,746.6 L1193.9,747.0 L1196.4,746.5 L1198.9,747.4 L1201.4,747.4 L1203.9,746.7 L1206.4,747.4 L1208.9,747.4 L1211.4,746.9 L1213.9,747.4 L1216.4,747.6 L1218.9,747.3 L1221.4,747.6 L1223.9,748.2 L1226.4,748.0 L1228.9,748.0 L1231.4,747.7 L1233.9,747.9 L1236.4,748.9 L1238.9,749.0 L1241.3,749.3 L1243.8,749.3 L1246.3,749.7 L1248.8,750.0 L1251.3,750.5 L1253.7,750.5 L1256.2,751.1 L1258.7,751.6 L1261.1,752.2 L1263.6,752.3 L1266.0,752.6 L1268.5,753.1 L1270.9,753.7 L1273.3,754.9 L1275.8,755.3 L1278.2,755.9 L1280.7,756.1 L1283.2,756.2 L1285.6,757.2 L1288.0,758.2 L1290.4,758.6 L1292.7,759.6 L1295.0,760.5 L1297.2,761.7 L1299.1,763.8 L1300.9,765.5 L1302.5,767.4 L1303.8,769.5 L1304.9,772.2 L1305.9,774.2 L1306.8,776.7 L1307.7,778.8 L1308.6,781.6 L1309.5,783.6 L1310.3,786.0 L1311.1,788.8 L1312.0,791.0 L1312.8,793.3 L1313.6,795.3 L1314.3,798.2 L1315.1,800.1 L1315.8,803.1 L1316.6,805.4 L1317.3,807.5 L1318.2,810.1 L1319.0,812.1 L1320.4,814.6 L1322.3,815.7 L1324.7,817.2 L1327.2,817.0 L1329.6,816.0 L1332.1,815.5 L1334.6,815.3 L1337.1,814.9 L1339.6,814.0 L1342.1,814.6 L1344.6,813.8 L1347.1,814.3 L1349.6,814.0 L1352.1,813.8 L1354.6,813.9 L1357.0,814.1 L1359.4,814.9 L1361.7,816.5 L1363.9,817.8 L1366.1,819.2 L1368.2,820.0 L1370.4,821.9 L1372.3,822.9 L1374.2,825.4 L1376.0,827.2 L1378.1,827.6 L1380.6,828.7 L1383.1,828.6 L1385.6,828.4 L1388.1,828.3 L1390.6,827.7 L1393.0,827.3 L1395.5,827.0 L1398.0,827.4 L1400.5,827.4 L1403.0,826.6 L1405.5,827.2 L1408.0,826.7 L1410.5,826.6 L1413.0,826.6 L1415.5,826.9 L1418.0,826.6 L1420.5,826.6 L1423.0,826.5 L1425.5,826.8 L1426.0,827.3"/>
<path class="crv core" stroke="#B474DE" d="M177.0,790.0 L179.5,789.3 L181.9,789.2 L184.4,788.5 L186.8,788.2 L189.2,787.5 L191.6,786.9 L194.0,785.7 L196.4,785.3 L198.7,784.5 L201.1,783.7 L203.5,782.3 L205.9,782.5 L208.3,781.4 L210.7,780.5 L213.1,779.9 L215.5,779.3 L217.9,778.7 L220.3,777.7 L222.7,777.0 L225.1,776.5 L227.5,776.2 L229.9,775.2 L232.3,774.1 L234.7,773.8 L237.1,772.9 L239.6,772.0 L242.0,772.3 L244.4,771.0 L246.8,770.6 L249.2,769.8 L251.7,768.9 L254.1,769.3 L256.6,769.0 L259.1,768.0 L261.6,768.0 L264.1,767.9 L266.6,767.7 L269.1,768.2 L271.7,768.4 L274.2,768.5 L276.7,768.5 L279.2,768.0 L281.7,768.4 L284.2,768.9 L286.7,769.3 L289.2,769.2 L291.7,769.5 L294.2,770.2 L296.6,769.7 L299.1,770.2 L301.6,770.6 L304.1,771.6 L306.6,771.2 L309.0,771.3 L311.5,772.0 L314.0,772.5 L316.5,772.3 L319.0,773.3 L321.5,772.9 L324.0,773.5 L326.5,773.2 L329.0,774.0 L331.5,773.4 L334.0,774.1 L336.5,774.3 L339.0,773.8 L341.5,773.7 L344.0,774.3 L346.5,774.2 L349.0,774.3 L351.5,774.6 L354.0,774.3 L356.5,774.3 L359.0,774.3 L361.5,774.2 L364.0,774.1 L366.5,773.9 L368.9,773.9 L371.4,773.9 L373.9,773.8 L376.4,774.3 L378.9,773.6 L381.4,773.6 L383.9,773.9 L386.4,773.6 L388.9,773.4 L391.4,773.5 L393.9,773.5 L396.4,773.6 L398.9,773.7 L401.4,773.5 L403.9,772.9 L406.4,772.8 L408.9,772.6 L411.4,772.3 L413.9,772.9 L416.4,771.9 L418.9,771.9 L421.4,772.2 L423.9,772.0 L426.4,771.5 L428.9,772.0 L431.4,771.4 L433.9,771.4 L436.4,770.8 L438.9,771.4 L441.4,770.5 L443.9,770.6 L446.4,771.0 L448.9,770.9 L451.4,770.7 L453.9,770.5 L456.3,769.8 L458.8,769.4 L461.3,769.7 L463.8,769.2 L466.3,769.9 L468.8,768.8 L471.3,769.0 L473.8,768.7 L476.3,768.4 L478.8,768.7 L481.3,768.2 L483.8,768.9 L486.3,768.5 L488.8,768.1 L491.3,768.4 L493.8,768.2 L496.3,767.7 L498.8,768.1 L501.3,768.0 L503.8,767.6 L506.3,767.2 L508.8,767.7 L511.3,767.6 L513.8,766.9 L516.3,766.5 L518.8,767.2 L521.3,766.9 L523.8,766.4 L526.3,766.7 L528.8,766.3 L531.3,766.9 L533.8,766.2 L536.3,766.0 L538.8,765.8 L541.3,766.0 L543.8,766.6 L546.3,765.7 L548.8,765.8 L551.2,766.3 L553.7,765.2 L556.2,765.3 L558.7,765.7 L561.2,764.8 L563.7,765.4 L566.2,765.0 L568.7,764.0 L571.2,764.1 L573.6,763.6 L576.1,763.1 L578.5,762.0 L580.8,761.3 L583.2,760.3 L585.6,759.5 L587.9,758.5 L590.2,758.3 L592.5,757.3 L594.9,755.9 L597.2,755.3 L599.5,754.2 L601.8,753.0 L604.1,752.2 L606.5,751.9 L608.8,750.3 L611.1,749.6 L613.4,749.0 L615.7,747.4 L618.0,747.0 L620.4,745.4 L622.7,745.0 L624.9,744.1 L627.2,743.0 L629.4,742.0 L631.7,740.6 L633.9,739.7 L636.1,737.9 L638.3,736.9 L640.5,735.4 L642.7,734.1 L645.0,733.3 L647.1,732.4 L649.3,731.2 L651.4,729.1 L653.5,728.6 L655.5,726.4 L657.4,724.9 L659.4,723.9 L661.3,722.4 L663.3,720.6 L665.2,718.7 L667.2,717.2 L669.1,716.0 L671.1,714.0 L673.0,712.9 L675.0,711.3 L676.9,709.4 L678.9,708.3 L680.8,706.2 L682.8,705.0 L684.7,703.3 L686.7,701.5 L688.6,700.1 L690.6,698.6 L692.3,696.8 L693.9,694.5 L695.4,693.3 L696.9,691.2 L698.3,688.2 L699.7,687.0 L701.1,684.5 L702.6,682.1 L704.1,680.8 L705.6,678.4 L707.1,676.7 L708.6,674.8 L710.1,672.5 L711.6,670.1 L713.2,668.9 L714.8,666.8 L716.5,665.2 L718.2,662.7 L719.9,661.4 L721.5,659.6 L723.1,657.2 L724.6,655.2 L725.9,653.0 L727.0,650.4 L728.1,648.4 L729.2,646.2 L730.3,643.7 L731.7,642.3 L733.2,640.0 L734.8,638.2 L736.4,636.0 L738.0,634.2 L739.6,632.6 L741.2,630.5 L742.9,628.7 L744.5,626.6 L746.2,624.9 L747.9,623.4 L750.1,621.9 L752.8,622.2 L755.5,622.4 L757.9,621.2 L760.0,620.8 L762.0,618.8 L763.9,617.1 L765.9,616.1 L768.0,614.6 L770.1,613.1 L772.3,612.1 L774.6,610.0 L776.8,609.2 L779.1,608.3 L781.3,607.5 L783.6,606.4 L786.0,605.7 L788.4,605.4 L790.9,606.0 L793.3,606.9 L795.8,608.4 L798.0,609.7 L800.2,611.0 L802.2,612.6 L804.2,613.3 L806.0,615.6 L807.9,617.0 L809.6,619.0 L811.4,620.4 L813.0,622.4 L814.6,624.7 L816.3,625.8 L817.9,628.0 L819.6,630.0 L821.3,632.1 L823.3,633.0 L825.4,635.0 L827.6,635.7 L829.7,637.1 L831.7,638.8 L833.4,640.7 L834.6,643.1 L835.4,645.6 L836.2,647.5 L837.1,650.4 L838.3,652.4 L840.2,653.8 L842.2,655.7 L844.3,657.2 L846.3,658.2 L848.4,660.0 L850.4,660.7 L852.4,662.3 L854.3,664.5 L856.3,665.6 L858.2,667.5 L860.1,669.0 L861.9,670.4 L863.5,672.9 L864.8,675.1 L866.3,676.6 L868.1,678.4 L870.2,680.3 L872.3,681.7 L874.4,682.9 L876.6,683.8 L878.7,685.0 L880.9,686.3 L883.0,687.3 L885.2,689.0 L887.3,690.0 L889.4,691.2 L891.6,692.8 L893.7,693.8 L895.8,695.5 L897.9,697.1 L900.0,698.4 L901.9,700.3 L903.6,702.1 L905.2,703.8 L906.9,706.0 L908.5,707.4 L910.4,709.4 L912.4,710.4 L914.4,712.1 L916.5,714.0 L918.5,715.0 L920.6,716.4 L922.6,718.1 L924.6,719.1 L926.6,721.1 L928.6,721.9 L930.6,723.6 L932.6,725.0 L934.7,726.4 L937.0,728.0 L939.5,727.6 L942.0,728.5 L944.3,729.7 L946.4,731.1 L948.5,732.6 L950.5,733.8 L952.4,735.2 L954.4,737.4 L956.4,738.2 L958.4,739.5 L960.5,741.1 L962.6,742.7 L964.7,744.5 L966.9,745.5 L969.1,746.5 L971.4,747.5 L973.8,748.6 L976.1,749.3 L978.5,749.8 L980.9,750.2 L983.3,750.9 L985.8,752.1 L988.2,752.5 L990.6,753.2 L993.1,753.0 L995.5,754.3 L998.0,754.3 L1000.4,755.3 L1002.9,755.4 L1005.4,755.8 L1007.8,756.5 L1010.3,756.7 L1012.8,757.2 L1015.2,757.0 L1017.7,757.8 L1020.2,757.9 L1022.7,757.9 L1025.2,758.3 L1027.6,758.9 L1030.1,758.9 L1032.6,759.7 L1035.1,759.2 L1037.6,759.4 L1040.1,760.6 L1042.6,760.1 L1045.1,760.6 L1047.6,760.5 L1050.1,760.7 L1052.5,761.1 L1055.0,761.6 L1057.5,761.1 L1060.0,762.0 L1062.5,762.3 L1065.0,762.0 L1067.5,761.9 L1070.0,761.7 L1072.5,761.7 L1075.0,761.8 L1077.5,762.2 L1080.0,761.3 L1082.5,761.9 L1085.0,761.6 L1087.5,760.8 L1090.0,760.7 L1092.5,761.2 L1095.0,760.9 L1097.5,760.3 L1100.0,760.6 L1102.5,759.7 L1105.0,759.6 L1107.4,759.0 L1109.9,759.3 L1112.4,758.4 L1114.9,758.2 L1117.4,758.4 L1119.8,757.8 L1122.3,757.6 L1124.8,757.3 L1127.3,756.9 L1129.7,756.1 L1132.2,756.2 L1134.7,755.2 L1137.1,755.0 L1139.6,754.7 L1142.1,753.9 L1144.5,753.3 L1146.9,753.3 L1149.4,752.8 L1151.8,751.8 L1154.2,751.2 L1156.6,750.4 L1159.1,750.2 L1161.5,749.7 L1164.0,749.6 L1166.4,748.2 L1168.9,748.7 L1171.4,748.5 L1173.9,747.6 L1176.4,747.8 L1178.9,747.7 L1181.4,747.4 L1183.9,747.0 L1186.4,747.2 L1188.9,747.4 L1191.4,746.6 L1193.9,747.0 L1196.4,746.5 L1198.9,747.4 L1201.4,747.4 L1203.9,746.7 L1206.4,747.4 L1208.9,747.4 L1211.4,746.9 L1213.9,747.4 L1216.4,747.6 L1218.9,747.3 L1221.4,747.6 L1223.9,748.2 L1226.4,748.0 L1228.9,748.0 L1231.4,747.7 L1233.9,747.9 L1236.4,748.9 L1238.9,749.0 L1241.3,749.3 L1243.8,749.3 L1246.3,749.7 L1248.8,750.0 L1251.3,750.5 L1253.7,750.5 L1256.2,751.1 L1258.7,751.6 L1261.1,752.2 L1263.6,752.3 L1266.0,752.6 L1268.5,753.1 L1270.9,753.7 L1273.3,754.9 L1275.8,755.3 L1278.2,755.9 L1280.7,756.1 L1283.2,756.2 L1285.6,757.2 L1288.0,758.2 L1290.4,758.6 L1292.7,759.6 L1295.0,760.5 L1297.2,761.7 L1299.1,763.8 L1300.9,765.5 L1302.5,767.4 L1303.8,769.5 L1304.9,772.2 L1305.9,774.2 L1306.8,776.7 L1307.7,778.8 L1308.6,781.6 L1309.5,783.6 L1310.3,786.0 L1311.1,788.8 L1312.0,791.0 L1312.8,793.3 L1313.6,795.3 L1314.3,798.2 L1315.1,800.1 L1315.8,803.1 L1316.6,805.4 L1317.3,807.5 L1318.2,810.1 L1319.0,812.1 L1320.4,814.6 L1322.3,815.7 L1324.7,817.2 L1327.2,817.0 L1329.6,816.0 L1332.1,815.5 L1334.6,815.3 L1337.1,814.9 L1339.6,814.0 L1342.1,814.6 L1344.6,813.8 L1347.1,814.3 L1349.6,814.0 L1352.1,813.8 L1354.6,813.9 L1357.0,814.1 L1359.4,814.9 L1361.7,816.5 L1363.9,817.8 L1366.1,819.2 L1368.2,820.0 L1370.4,821.9 L1372.3,822.9 L1374.2,825.4 L1376.0,827.2 L1378.1,827.6 L1380.6,828.7 L1383.1,828.6 L1385.6,828.4 L1388.1,828.3 L1390.6,827.7 L1393.0,827.3 L1395.5,827.0 L1398.0,827.4 L1400.5,827.4 L1403.0,826.6 L1405.5,827.2 L1408.0,826.7 L1410.5,826.6 L1413.0,826.6 L1415.5,826.9 L1418.0,826.6 L1420.5,826.6 L1423.0,826.5 L1425.5,826.8 L1426.0,827.3"/>
<path class="crv halo" stroke="#186BDE" d="M177.0,571.0 L179.3,570.4 L181.6,569.6 L183.9,568.1 L186.3,567.5 L188.6,567.3 L191.0,566.7 L193.5,565.9 L195.9,564.7 L198.3,564.8 L200.8,564.0 L203.3,563.3 L205.8,563.3 L208.3,563.4 L210.7,563.0 L213.2,562.2 L215.7,561.6 L218.2,562.2 L220.7,562.1 L223.2,561.4 L225.7,561.0 L228.2,561.1 L230.7,561.2 L233.2,560.9 L235.7,560.7 L238.2,560.6 L240.7,560.7 L243.2,560.6 L245.6,560.9 L248.1,561.7 L250.6,560.9 L253.1,561.8 L255.6,562.1 L258.1,562.0 L260.6,562.4 L263.1,562.3 L265.6,563.0 L268.1,563.4 L270.5,563.9 L273.0,564.0 L275.5,564.9 L277.9,565.3 L280.4,565.4 L282.9,565.9 L285.3,565.9 L287.8,566.9 L290.3,566.9 L292.8,567.4 L295.3,567.0 L297.8,567.8 L300.3,567.1 L302.8,567.6 L305.3,567.3 L307.8,567.5 L310.3,568.2 L312.8,567.5 L315.3,567.9 L317.8,567.7 L320.3,568.4 L322.8,567.7 L325.3,567.9 L327.8,568.4 L330.3,568.3 L332.8,568.3 L335.3,568.5 L337.8,567.5 L340.3,568.1 L342.8,568.1 L345.3,568.1 L347.8,567.9 L350.3,567.2 L352.8,567.2 L355.3,567.8 L357.8,567.6 L360.3,567.3 L362.8,567.0 L365.3,567.5 L367.8,567.1 L370.3,567.8 L372.8,567.5 L375.3,568.0 L377.8,567.3 L380.3,567.8 L382.8,567.4 L385.3,568.1 L387.8,568.0 L390.3,567.7 L392.8,568.4 L395.3,568.2 L397.8,567.8 L400.3,568.4 L402.8,567.9 L405.3,568.4 L407.8,567.7 L410.3,568.4 L412.8,567.4 L415.3,568.1 L417.8,567.6 L420.2,567.7 L422.7,567.8 L425.2,567.2 L427.7,567.3 L430.2,567.1 L432.7,567.7 L435.2,567.1 L437.7,567.3 L440.2,567.0 L442.7,566.9 L445.2,567.5 L447.7,567.0 L450.2,567.0 L452.7,567.0 L455.2,567.0 L457.7,566.3 L460.2,566.0 L462.7,566.3 L465.2,565.9 L467.7,565.7 L470.2,566.4 L472.7,566.0 L475.2,565.7 L477.7,565.2 L480.2,565.7 L482.7,565.3 L485.2,564.8 L487.7,565.4 L490.2,565.2 L492.7,565.0 L495.2,564.7 L497.7,564.2 L500.1,563.7 L502.6,563.8 L505.1,563.1 L507.6,563.3 L510.1,562.6 L512.6,562.2 L515.1,562.7 L517.6,562.0 L520.0,562.0 L522.5,561.8 L525.0,561.5 L527.5,560.9 L529.9,560.8 L532.4,560.2 L534.9,560.1 L537.4,559.7 L539.8,558.4 L542.3,558.3 L544.8,558.0 L547.2,557.5 L549.7,557.0 L552.2,557.3 L554.7,556.1 L557.1,555.8 L559.6,556.0 L562.0,554.9 L564.5,554.4 L566.9,554.4 L569.3,553.3 L571.6,552.1 L573.8,550.6 L576.0,549.5 L578.1,548.9 L580.2,547.3 L582.3,545.2 L584.4,544.4 L586.5,542.8 L588.7,542.0 L591.0,540.5 L593.3,539.4 L595.7,538.4 L598.0,537.7 L600.2,537.1 L602.3,535.8 L604.3,534.1 L606.2,532.4 L607.9,530.0 L609.5,528.3 L611.1,526.9 L612.7,525.1 L614.2,522.6 L615.8,521.0 L617.4,519.2 L618.9,517.3 L620.5,514.6 L622.0,513.0 L623.5,510.8 L625.1,508.9 L626.7,506.9 L628.3,504.8 L629.9,502.7 L631.6,501.6 L633.3,499.6 L635.0,498.0 L636.7,495.4 L638.4,493.7 L640.1,492.3 L641.9,490.8 L643.6,488.6 L645.4,486.5 L647.2,485.1 L648.9,483.7 L650.7,481.9 L652.5,480.1 L654.2,477.9 L656.0,476.0 L657.8,474.8 L659.5,473.0 L661.3,471.3 L663.1,469.0 L664.8,467.2 L666.6,465.3 L668.4,464.2 L670.1,462.5 L671.9,460.2 L673.7,458.9 L675.4,456.6 L677.2,454.9 L679.2,453.5 L681.6,452.3 L684.2,451.6 L686.7,450.8 L688.7,449.5 L690.1,447.7 L691.2,445.0 L692.2,443.5 L693.3,440.6 L694.3,438.6 L695.3,436.5 L696.4,433.7 L697.5,431.8 L698.5,429.6 L699.6,427.4 L700.7,425.4 L701.7,423.1 L702.9,420.2 L704.1,418.7 L705.4,416.3 L706.8,414.4 L708.4,411.9 L710.1,410.4 L711.9,408.8 L713.7,407.2 L715.4,405.4 L717.1,403.0 L718.8,401.7 L720.4,399.5 L722.0,397.7 L723.6,395.9 L725.1,393.5 L726.7,392.1 L728.2,390.1 L729.8,388.0 L731.3,385.7 L732.8,383.8 L734.1,381.4 L735.2,379.8 L736.2,377.7 L737.2,374.7 L738.4,373.0 L739.7,370.8 L741.4,368.0 L743.5,367.3 L745.7,365.7 L747.9,364.6 L750.3,364.9 L752.7,367.2 L755.1,368.2 L757.3,368.2 L759.1,366.3 L760.6,364.7 L762.0,362.2 L763.4,360.3 L765.0,358.3 L767.1,357.1 L769.3,355.5 L771.6,354.3 L773.9,354.1 L776.3,353.4 L778.8,352.5 L781.3,352.3 L783.7,351.8 L786.2,351.4 L788.7,351.0 L791.2,350.9 L793.7,351.2 L796.2,351.3 L798.7,352.0 L801.2,352.7 L803.6,353.2 L805.8,354.7 L807.8,356.2 L809.3,358.6 L810.6,361.0 L811.7,363.1 L812.7,365.4 L813.6,367.7 L814.6,369.6 L815.7,371.9 L816.9,374.6 L818.1,376.9 L819.3,378.3 L820.5,380.3 L821.7,383.5 L822.9,385.6 L824.1,387.5 L825.3,389.9 L826.6,391.8 L827.8,394.3 L829.3,395.7 L830.8,397.9 L832.4,400.0 L834.1,401.5 L835.6,403.9 L837.1,405.5 L838.3,408.1 L839.2,410.5 L839.8,412.6 L840.3,415.6 L840.7,417.8 L841.3,420.3 L842.1,422.0 L843.2,424.3 L844.5,427.1 L845.9,429.4 L847.5,431.0 L849.2,433.2 L851.1,434.0 L853.1,436.3 L855.2,437.7 L857.3,438.8 L859.2,440.2 L860.9,442.2 L862.5,443.7 L864.1,446.1 L865.6,448.1 L867.2,449.9 L869.0,451.4 L870.9,452.7 L872.9,454.4 L874.9,456.5 L876.8,457.5 L878.5,459.2 L880.0,461.4 L881.5,463.7 L883.0,465.8 L884.7,467.9 L886.7,469.5 L888.6,471.1 L890.6,472.6 L892.5,473.7 L894.5,475.0 L896.4,477.4 L898.4,478.2 L900.3,480.2 L902.3,481.4 L904.2,483.5 L906.2,484.4 L908.1,486.2 L910.1,487.6 L912.0,489.8 L914.0,491.1 L915.9,492.7 L917.9,493.9 L919.8,495.4 L921.8,497.5 L923.9,498.8 L926.1,500.0 L928.2,501.5 L930.5,502.3 L932.7,503.1 L934.9,504.7 L937.0,505.7 L939.2,507.2 L941.3,508.4 L943.4,509.8 L945.6,511.5 L947.7,512.7 L949.8,513.6 L952.0,515.3 L954.1,516.6 L956.3,517.8 L958.5,518.7 L960.8,520.1 L963.1,520.8 L965.4,521.3 L967.7,522.4 L970.1,523.5 L972.5,524.0 L974.9,524.7 L977.3,525.3 L979.8,525.7 L982.2,526.2 L984.6,526.7 L987.1,527.9 L989.5,528.1 L992.0,528.7 L994.4,529.6 L996.9,529.7 L999.4,530.3 L1001.8,530.7 L1004.2,531.5 L1006.6,531.4 L1009.0,532.6 L1011.3,534.1 L1013.6,534.6 L1015.9,536.1 L1018.2,536.3 L1020.5,537.1 L1022.8,538.9 L1025.2,539.2 L1027.5,540.2 L1029.9,541.4 L1032.2,541.5 L1034.6,543.1 L1037.0,543.3 L1039.4,543.9 L1041.8,544.7 L1044.1,545.7 L1046.6,546.3 L1049.0,547.4 L1051.4,547.1 L1053.8,547.7 L1056.3,548.3 L1058.7,549.2 L1061.2,549.8 L1063.7,549.8 L1066.2,550.1 L1068.7,550.3 L1071.2,549.7 L1073.7,549.9 L1076.2,550.6 L1078.7,549.7 L1081.2,550.2 L1083.7,549.5 L1086.2,549.0 L1088.7,548.6 L1091.2,548.5 L1093.7,548.4 L1096.1,548.2 L1098.6,548.0 L1101.1,547.8 L1103.6,547.5 L1106.1,546.7 L1108.6,546.7 L1111.1,547.1 L1113.5,545.8 L1116.0,546.2 L1118.5,545.5 L1121.0,545.4 L1123.4,544.6 L1125.9,544.2 L1128.4,544.0 L1130.8,543.9 L1133.3,543.0 L1135.8,542.3 L1138.2,541.9 L1140.7,542.4 L1143.2,541.5 L1145.7,541.0 L1148.2,541.3 L1150.7,541.5 L1153.2,541.2 L1155.7,540.8 L1158.2,541.1 L1160.7,541.1 L1163.2,541.1 L1165.7,542.3 L1168.2,542.1 L1170.7,542.1 L1173.1,543.3 L1175.6,543.9 L1178.0,544.3 L1180.4,544.3 L1182.9,544.9 L1185.3,545.8 L1187.7,546.5 L1190.2,547.3 L1192.6,547.9 L1195.1,548.2 L1197.6,548.0 L1200.0,548.5 L1202.5,548.3 L1205.0,548.9 L1207.5,548.6 L1210.0,548.8 L1212.5,549.0 L1215.0,549.3 L1217.5,549.5 L1220.0,550.0 L1222.5,549.6 L1225.0,549.8 L1227.5,550.5 L1230.0,550.7 L1232.5,551.0 L1235.0,551.3 L1237.4,551.5 L1239.9,551.8 L1242.4,552.4 L1244.8,552.2 L1247.3,552.8 L1249.7,553.8 L1252.2,553.8 L1254.6,554.7 L1257.1,554.9 L1259.5,555.7 L1261.9,556.6 L1264.4,557.0 L1266.8,557.4 L1269.3,557.7 L1271.7,558.8 L1274.2,559.1 L1276.6,559.4 L1279.1,560.3 L1281.5,560.5 L1284.0,561.2 L1286.5,561.3 L1288.9,561.9 L1291.4,561.9 L1293.9,562.5 L1296.4,563.0 L1298.8,562.6 L1301.3,563.4 L1303.8,563.9 L1306.2,563.7 L1308.7,564.8 L1311.2,565.1 L1313.7,565.7 L1316.1,565.5 L1318.6,566.0 L1321.1,566.7 L1323.6,566.6 L1326.0,567.3 L1328.5,567.2 L1331.0,567.5 L1333.5,567.7 L1336.0,568.0 L1338.4,568.5 L1340.9,568.6 L1343.4,569.6 L1345.9,570.0 L1348.4,569.5 L1350.8,569.7 L1353.3,570.0 L1355.8,571.2 L1358.3,570.7 L1360.8,571.6 L1363.2,571.5 L1365.7,571.7 L1368.2,572.1 L1370.7,572.8 L1373.2,572.4 L1375.6,573.6 L1378.1,573.6 L1380.6,573.5 L1383.1,573.8 L1385.6,574.5 L1388.1,574.8 L1390.5,574.8 L1393.0,575.1 L1395.5,575.5 L1398.0,576.2 L1400.5,576.2 L1403.0,576.8 L1405.4,576.8 L1407.9,577.0 L1410.4,577.3 L1412.9,577.7 L1415.4,577.8 L1417.9,578.3 L1420.4,578.1 L1422.8,578.5 L1425.3,579.3 L1426.0,578.9"/>
<path class="crv core" stroke="#186BDE" d="M177.0,571.0 L179.3,570.4 L181.6,569.6 L183.9,568.1 L186.3,567.5 L188.6,567.3 L191.0,566.7 L193.5,565.9 L195.9,564.7 L198.3,564.8 L200.8,564.0 L203.3,563.3 L205.8,563.3 L208.3,563.4 L210.7,563.0 L213.2,562.2 L215.7,561.6 L218.2,562.2 L220.7,562.1 L223.2,561.4 L225.7,561.0 L228.2,561.1 L230.7,561.2 L233.2,560.9 L235.7,560.7 L238.2,560.6 L240.7,560.7 L243.2,560.6 L245.6,560.9 L248.1,561.7 L250.6,560.9 L253.1,561.8 L255.6,562.1 L258.1,562.0 L260.6,562.4 L263.1,562.3 L265.6,563.0 L268.1,563.4 L270.5,563.9 L273.0,564.0 L275.5,564.9 L277.9,565.3 L280.4,565.4 L282.9,565.9 L285.3,565.9 L287.8,566.9 L290.3,566.9 L292.8,567.4 L295.3,567.0 L297.8,567.8 L300.3,567.1 L302.8,567.6 L305.3,567.3 L307.8,567.5 L310.3,568.2 L312.8,567.5 L315.3,567.9 L317.8,567.7 L320.3,568.4 L322.8,567.7 L325.3,567.9 L327.8,568.4 L330.3,568.3 L332.8,568.3 L335.3,568.5 L337.8,567.5 L340.3,568.1 L342.8,568.1 L345.3,568.1 L347.8,567.9 L350.3,567.2 L352.8,567.2 L355.3,567.8 L357.8,567.6 L360.3,567.3 L362.8,567.0 L365.3,567.5 L367.8,567.1 L370.3,567.8 L372.8,567.5 L375.3,568.0 L377.8,567.3 L380.3,567.8 L382.8,567.4 L385.3,568.1 L387.8,568.0 L390.3,567.7 L392.8,568.4 L395.3,568.2 L397.8,567.8 L400.3,568.4 L402.8,567.9 L405.3,568.4 L407.8,567.7 L410.3,568.4 L412.8,567.4 L415.3,568.1 L417.8,567.6 L420.2,567.7 L422.7,567.8 L425.2,567.2 L427.7,567.3 L430.2,567.1 L432.7,567.7 L435.2,567.1 L437.7,567.3 L440.2,567.0 L442.7,566.9 L445.2,567.5 L447.7,567.0 L450.2,567.0 L452.7,567.0 L455.2,567.0 L457.7,566.3 L460.2,566.0 L462.7,566.3 L465.2,565.9 L467.7,565.7 L470.2,566.4 L472.7,566.0 L475.2,565.7 L477.7,565.2 L480.2,565.7 L482.7,565.3 L485.2,564.8 L487.7,565.4 L490.2,565.2 L492.7,565.0 L495.2,564.7 L497.7,564.2 L500.1,563.7 L502.6,563.8 L505.1,563.1 L507.6,563.3 L510.1,562.6 L512.6,562.2 L515.1,562.7 L517.6,562.0 L520.0,562.0 L522.5,561.8 L525.0,561.5 L527.5,560.9 L529.9,560.8 L532.4,560.2 L534.9,560.1 L537.4,559.7 L539.8,558.4 L542.3,558.3 L544.8,558.0 L547.2,557.5 L549.7,557.0 L552.2,557.3 L554.7,556.1 L557.1,555.8 L559.6,556.0 L562.0,554.9 L564.5,554.4 L566.9,554.4 L569.3,553.3 L571.6,552.1 L573.8,550.6 L576.0,549.5 L578.1,548.9 L580.2,547.3 L582.3,545.2 L584.4,544.4 L586.5,542.8 L588.7,542.0 L591.0,540.5 L593.3,539.4 L595.7,538.4 L598.0,537.7 L600.2,537.1 L602.3,535.8 L604.3,534.1 L606.2,532.4 L607.9,530.0 L609.5,528.3 L611.1,526.9 L612.7,525.1 L614.2,522.6 L615.8,521.0 L617.4,519.2 L618.9,517.3 L620.5,514.6 L622.0,513.0 L623.5,510.8 L625.1,508.9 L626.7,506.9 L628.3,504.8 L629.9,502.7 L631.6,501.6 L633.3,499.6 L635.0,498.0 L636.7,495.4 L638.4,493.7 L640.1,492.3 L641.9,490.8 L643.6,488.6 L645.4,486.5 L647.2,485.1 L648.9,483.7 L650.7,481.9 L652.5,480.1 L654.2,477.9 L656.0,476.0 L657.8,474.8 L659.5,473.0 L661.3,471.3 L663.1,469.0 L664.8,467.2 L666.6,465.3 L668.4,464.2 L670.1,462.5 L671.9,460.2 L673.7,458.9 L675.4,456.6 L677.2,454.9 L679.2,453.5 L681.6,452.3 L684.2,451.6 L686.7,450.8 L688.7,449.5 L690.1,447.7 L691.2,445.0 L692.2,443.5 L693.3,440.6 L694.3,438.6 L695.3,436.5 L696.4,433.7 L697.5,431.8 L698.5,429.6 L699.6,427.4 L700.7,425.4 L701.7,423.1 L702.9,420.2 L704.1,418.7 L705.4,416.3 L706.8,414.4 L708.4,411.9 L710.1,410.4 L711.9,408.8 L713.7,407.2 L715.4,405.4 L717.1,403.0 L718.8,401.7 L720.4,399.5 L722.0,397.7 L723.6,395.9 L725.1,393.5 L726.7,392.1 L728.2,390.1 L729.8,388.0 L731.3,385.7 L732.8,383.8 L734.1,381.4 L735.2,379.8 L736.2,377.7 L737.2,374.7 L738.4,373.0 L739.7,370.8 L741.4,368.0 L743.5,367.3 L745.7,365.7 L747.9,364.6 L750.3,364.9 L752.7,367.2 L755.1,368.2 L757.3,368.2 L759.1,366.3 L760.6,364.7 L762.0,362.2 L763.4,360.3 L765.0,358.3 L767.1,357.1 L769.3,355.5 L771.6,354.3 L773.9,354.1 L776.3,353.4 L778.8,352.5 L781.3,352.3 L783.7,351.8 L786.2,351.4 L788.7,351.0 L791.2,350.9 L793.7,351.2 L796.2,351.3 L798.7,352.0 L801.2,352.7 L803.6,353.2 L805.8,354.7 L807.8,356.2 L809.3,358.6 L810.6,361.0 L811.7,363.1 L812.7,365.4 L813.6,367.7 L814.6,369.6 L815.7,371.9 L816.9,374.6 L818.1,376.9 L819.3,378.3 L820.5,380.3 L821.7,383.5 L822.9,385.6 L824.1,387.5 L825.3,389.9 L826.6,391.8 L827.8,394.3 L829.3,395.7 L830.8,397.9 L832.4,400.0 L834.1,401.5 L835.6,403.9 L837.1,405.5 L838.3,408.1 L839.2,410.5 L839.8,412.6 L840.3,415.6 L840.7,417.8 L841.3,420.3 L842.1,422.0 L843.2,424.3 L844.5,427.1 L845.9,429.4 L847.5,431.0 L849.2,433.2 L851.1,434.0 L853.1,436.3 L855.2,437.7 L857.3,438.8 L859.2,440.2 L860.9,442.2 L862.5,443.7 L864.1,446.1 L865.6,448.1 L867.2,449.9 L869.0,451.4 L870.9,452.7 L872.9,454.4 L874.9,456.5 L876.8,457.5 L878.5,459.2 L880.0,461.4 L881.5,463.7 L883.0,465.8 L884.7,467.9 L886.7,469.5 L888.6,471.1 L890.6,472.6 L892.5,473.7 L894.5,475.0 L896.4,477.4 L898.4,478.2 L900.3,480.2 L902.3,481.4 L904.2,483.5 L906.2,484.4 L908.1,486.2 L910.1,487.6 L912.0,489.8 L914.0,491.1 L915.9,492.7 L917.9,493.9 L919.8,495.4 L921.8,497.5 L923.9,498.8 L926.1,500.0 L928.2,501.5 L930.5,502.3 L932.7,503.1 L934.9,504.7 L937.0,505.7 L939.2,507.2 L941.3,508.4 L943.4,509.8 L945.6,511.5 L947.7,512.7 L949.8,513.6 L952.0,515.3 L954.1,516.6 L956.3,517.8 L958.5,518.7 L960.8,520.1 L963.1,520.8 L965.4,521.3 L967.7,522.4 L970.1,523.5 L972.5,524.0 L974.9,524.7 L977.3,525.3 L979.8,525.7 L982.2,526.2 L984.6,526.7 L987.1,527.9 L989.5,528.1 L992.0,528.7 L994.4,529.6 L996.9,529.7 L999.4,530.3 L1001.8,530.7 L1004.2,531.5 L1006.6,531.4 L1009.0,532.6 L1011.3,534.1 L1013.6,534.6 L1015.9,536.1 L1018.2,536.3 L1020.5,537.1 L1022.8,538.9 L1025.2,539.2 L1027.5,540.2 L1029.9,541.4 L1032.2,541.5 L1034.6,543.1 L1037.0,543.3 L1039.4,543.9 L1041.8,544.7 L1044.1,545.7 L1046.6,546.3 L1049.0,547.4 L1051.4,547.1 L1053.8,547.7 L1056.3,548.3 L1058.7,549.2 L1061.2,549.8 L1063.7,549.8 L1066.2,550.1 L1068.7,550.3 L1071.2,549.7 L1073.7,549.9 L1076.2,550.6 L1078.7,549.7 L1081.2,550.2 L1083.7,549.5 L1086.2,549.0 L1088.7,548.6 L1091.2,548.5 L1093.7,548.4 L1096.1,548.2 L1098.6,548.0 L1101.1,547.8 L1103.6,547.5 L1106.1,546.7 L1108.6,546.7 L1111.1,547.1 L1113.5,545.8 L1116.0,546.2 L1118.5,545.5 L1121.0,545.4 L1123.4,544.6 L1125.9,544.2 L1128.4,544.0 L1130.8,543.9 L1133.3,543.0 L1135.8,542.3 L1138.2,541.9 L1140.7,542.4 L1143.2,541.5 L1145.7,541.0 L1148.2,541.3 L1150.7,541.5 L1153.2,541.2 L1155.7,540.8 L1158.2,541.1 L1160.7,541.1 L1163.2,541.1 L1165.7,542.3 L1168.2,542.1 L1170.7,542.1 L1173.1,543.3 L1175.6,543.9 L1178.0,544.3 L1180.4,544.3 L1182.9,544.9 L1185.3,545.8 L1187.7,546.5 L1190.2,547.3 L1192.6,547.9 L1195.1,548.2 L1197.6,548.0 L1200.0,548.5 L1202.5,548.3 L1205.0,548.9 L1207.5,548.6 L1210.0,548.8 L1212.5,549.0 L1215.0,549.3 L1217.5,549.5 L1220.0,550.0 L1222.5,549.6 L1225.0,549.8 L1227.5,550.5 L1230.0,550.7 L1232.5,551.0 L1235.0,551.3 L1237.4,551.5 L1239.9,551.8 L1242.4,552.4 L1244.8,552.2 L1247.3,552.8 L1249.7,553.8 L1252.2,553.8 L1254.6,554.7 L1257.1,554.9 L1259.5,555.7 L1261.9,556.6 L1264.4,557.0 L1266.8,557.4 L1269.3,557.7 L1271.7,558.8 L1274.2,559.1 L1276.6,559.4 L1279.1,560.3 L1281.5,560.5 L1284.0,561.2 L1286.5,561.3 L1288.9,561.9 L1291.4,561.9 L1293.9,562.5 L1296.4,563.0 L1298.8,562.6 L1301.3,563.4 L1303.8,563.9 L1306.2,563.7 L1308.7,564.8 L1311.2,565.1 L1313.7,565.7 L1316.1,565.5 L1318.6,566.0 L1321.1,566.7 L1323.6,566.6 L1326.0,567.3 L1328.5,567.2 L1331.0,567.5 L1333.5,567.7 L1336.0,568.0 L1338.4,568.5 L1340.9,568.6 L1343.4,569.6 L1345.9,570.0 L1348.4,569.5 L1350.8,569.7 L1353.3,570.0 L1355.8,571.2 L1358.3,570.7 L1360.8,571.6 L1363.2,571.5 L1365.7,571.7 L1368.2,572.1 L1370.7,572.8 L1373.2,572.4 L1375.6,573.6 L1378.1,573.6 L1380.6,573.5 L1383.1,573.8 L1385.6,574.5 L1388.1,574.8 L1390.5,574.8 L1393.0,575.1 L1395.5,575.5 L1398.0,576.2 L1400.5,576.2 L1403.0,576.8 L1405.4,576.8 L1407.9,577.0 L1410.4,577.3 L1412.9,577.7 L1415.4,577.8 L1417.9,578.3 L1420.4,578.1 L1422.8,578.5 L1425.3,579.3 L1426.0,578.9"/>
<path class="crv halo" stroke="#CC9A05" d="M177.0,329.8 L179.5,329.6 L181.9,328.8 L184.4,328.0 L186.9,328.3 L189.4,327.8 L191.8,327.1 L194.3,327.3 L196.8,326.5 L199.3,325.7 L201.7,325.4 L204.2,325.1 L206.7,325.1 L209.1,325.0 L211.6,323.9 L214.1,323.4 L216.5,323.6 L219.0,323.1 L221.5,322.7 L224.0,322.7 L226.4,322.4 L228.9,322.1 L231.4,321.5 L233.8,320.4 L236.3,320.2 L238.8,320.2 L241.3,320.3 L243.8,319.0 L246.2,319.2 L248.7,318.7 L251.2,318.5 L253.7,318.1 L256.2,317.8 L258.7,317.6 L261.2,317.3 L263.7,317.5 L266.2,317.3 L268.7,317.5 L271.2,317.3 L273.7,317.6 L276.2,317.0 L278.7,317.6 L281.2,317.1 L283.7,317.4 L286.2,317.6 L288.7,317.3 L291.2,317.5 L293.7,317.8 L296.2,317.4 L298.7,318.0 L301.2,317.7 L303.7,317.9 L306.1,318.5 L308.6,319.0 L311.1,319.2 L313.6,318.6 L316.1,318.7 L318.6,319.2 L321.1,319.4 L323.6,319.5 L326.1,320.1 L328.6,320.3 L331.1,320.3 L333.6,320.6 L336.1,320.7 L338.6,321.0 L341.1,321.4 L343.5,321.6 L346.0,321.8 L348.5,321.8 L351.0,321.1 L353.5,321.6 L356.0,322.0 L358.5,321.5 L361.0,321.9 L363.5,321.4 L366.0,321.5 L368.5,321.7 L371.0,321.4 L373.5,321.8 L376.0,321.6 L378.5,322.2 L381.0,321.6 L383.5,321.6 L386.0,322.0 L388.5,321.8 L391.0,321.2 L393.5,321.4 L396.0,321.7 L398.5,321.2 L401.0,321.2 L403.5,321.6 L406.0,321.4 L408.5,321.1 L411.0,321.3 L413.5,321.4 L416.0,320.7 L418.5,320.9 L421.0,320.9 L423.5,321.4 L426.0,320.5 L428.5,320.7 L431.0,320.5 L433.5,320.9 L436.0,321.0 L438.5,320.1 L441.0,320.9 L443.5,320.6 L446.0,320.1 L448.5,320.7 L451.0,319.9 L453.5,320.3 L456.0,319.5 L458.5,319.7 L461.0,319.6 L463.5,319.9 L466.0,319.6 L468.5,319.2 L471.0,318.5 L473.5,318.7 L476.0,318.4 L478.5,318.8 L480.9,318.2 L483.4,317.6 L485.9,317.3 L488.4,317.4 L490.9,316.3 L493.3,316.6 L495.8,316.0 L498.2,315.2 L500.7,315.0 L503.1,314.1 L505.5,313.2 L508.0,312.9 L510.4,311.9 L512.8,311.2 L515.2,310.9 L517.6,310.6 L520.0,309.3 L522.4,308.9 L524.8,308.7 L527.3,307.8 L529.7,307.2 L532.0,306.2 L534.4,305.4 L536.8,304.6 L539.2,303.9 L541.5,302.9 L543.9,302.0 L546.3,301.1 L548.6,300.1 L551.0,299.5 L553.4,299.1 L555.8,298.0 L558.2,296.8 L560.6,296.6 L562.9,294.9 L565.2,294.8 L567.5,293.4 L569.7,292.2 L571.9,290.9 L574.1,290.0 L576.1,287.7 L578.1,286.2 L580.0,285.1 L581.9,283.2 L583.8,281.7 L585.7,280.2 L587.5,278.0 L589.4,277.3 L591.3,275.3 L593.1,273.1 L595.0,272.0 L596.8,270.2 L598.7,268.6 L600.5,267.0 L602.4,265.6 L604.2,263.0 L606.1,262.2 L607.9,260.0 L609.8,258.1 L611.6,256.5 L613.4,254.8 L615.1,253.5 L616.8,251.3 L618.5,249.0 L620.1,247.7 L621.7,245.6 L623.3,243.9 L624.8,241.2 L626.4,240.1 L627.9,238.1 L629.4,235.2 L630.9,233.7 L632.4,231.3 L633.9,229.7 L635.4,227.3 L636.9,226.1 L638.3,223.3 L639.8,221.8 L641.3,219.8 L642.9,217.5 L644.4,215.4 L645.9,214.2 L647.5,211.3 L649.1,209.6 L650.6,207.7 L652.2,206.0 L653.8,203.9 L655.3,201.6 L656.8,200.1 L658.4,198.3 L659.8,196.2 L661.1,193.9 L662.3,191.5 L663.6,189.0 L664.8,187.4 L666.1,185.3 L667.5,183.1 L669.0,181.6 L670.5,178.9 L672.2,177.6 L673.8,175.6 L675.5,173.9 L677.1,172.0 L678.6,169.4 L680.1,168.0 L681.6,165.5 L683.0,163.8 L684.5,162.0 L685.9,159.6 L687.4,157.5 L688.9,155.0 L690.4,153.5 L691.9,151.2 L693.4,149.3 L694.9,147.4 L696.6,146.1 L698.2,143.9 L700.0,142.1 L701.9,139.9 L703.9,138.5 L705.9,137.7 L708.1,135.7 L710.2,135.2 L712.4,133.5 L714.7,132.3 L717.0,131.4 L719.2,130.2 L721.4,129.1 L723.3,127.5 L725.1,126.0 L726.9,123.8 L728.9,122.2 L731.1,122.1 L733.4,123.1 L735.6,125.4 L737.9,126.9 L740.1,127.0 L742.4,124.8 L744.6,123.1 L746.8,122.1 L749.1,121.5 L751.3,123.2 L753.5,124.3 L755.7,124.9 L757.8,126.5 L760.0,128.1 L762.2,129.1 L764.3,130.4 L766.6,131.8 L768.8,132.6 L771.1,133.5 L773.3,134.9 L775.5,135.7 L777.8,136.5 L779.8,138.1 L781.8,140.0 L783.6,142.1 L785.3,143.6 L786.9,145.3 L788.4,148.0 L789.9,149.5 L791.1,151.5 L792.0,154.2 L792.8,156.4 L793.7,158.5 L794.8,161.3 L796.1,163.4 L797.7,165.7 L799.4,166.7 L801.1,169.3 L802.9,170.9 L804.7,172.1 L806.6,173.9 L808.5,175.7 L810.6,176.9 L812.7,178.0 L814.9,180.0 L817.1,180.5 L819.3,182.0 L821.5,183.2 L823.6,185.0 L825.6,186.1 L827.5,187.6 L828.9,190.2 L829.9,191.9 L831.0,194.7 L832.2,196.4 L833.9,198.6 L835.9,200.1 L838.0,201.7 L840.0,202.8 L842.1,203.9 L844.1,205.8 L846.1,207.5 L848.2,208.4 L850.1,209.6 L852.1,211.3 L854.1,213.6 L856.0,214.3 L858.0,215.9 L859.9,217.5 L861.9,219.8 L863.8,220.9 L865.7,222.8 L867.6,224.5 L869.3,226.1 L870.9,228.3 L872.4,230.0 L874.1,231.9 L876.1,233.2 L878.2,234.1 L880.6,235.7 L883.0,236.1 L885.5,236.9 L887.9,238.4 L890.1,238.9 L892.2,240.0 L893.8,242.4 L895.2,244.4 L896.6,246.2 L898.1,248.5 L900.0,250.3 L902.3,251.1 L904.5,252.9 L906.7,253.8 L909.0,254.7 L911.2,256.2 L913.4,256.4 L915.7,257.8 L917.9,259.6 L920.1,260.3 L922.4,261.1 L924.6,262.6 L926.9,263.8 L929.1,264.8 L931.3,265.4 L933.6,266.5 L935.8,268.0 L938.0,268.7 L940.2,270.0 L942.3,271.9 L944.4,273.1 L946.4,274.3 L948.3,276.6 L950.3,277.6 L952.3,279.7 L954.4,280.8 L956.5,282.2 L958.6,283.3 L960.7,284.9 L962.8,285.8 L965.0,287.1 L967.1,289.0 L969.3,289.6 L971.5,290.9 L973.8,292.4 L976.0,293.0 L978.3,294.1 L980.6,295.7 L982.9,296.0 L985.2,297.0 L987.5,298.6 L989.8,299.0 L992.0,300.1 L994.3,301.6 L996.6,302.0 L998.8,303.6 L1001.1,304.4 L1003.4,305.3 L1005.8,305.6 L1008.2,306.5 L1010.6,308.0 L1013.1,308.9 L1015.5,309.0 L1018.0,309.5 L1020.5,309.9 L1022.9,310.1 L1025.4,310.5 L1027.9,310.4 L1030.3,310.3 L1032.8,309.4 L1035.2,309.0 L1037.7,308.4 L1040.2,307.9 L1042.6,307.2 L1045.0,307.3 L1047.5,306.0 L1049.8,305.1 L1052.2,304.9 L1054.6,304.5 L1057.0,303.6 L1059.3,302.6 L1061.7,301.5 L1064.1,300.7 L1066.4,299.7 L1068.8,299.3 L1071.1,298.4 L1073.4,297.1 L1075.6,296.4 L1077.9,295.0 L1080.0,293.8 L1082.2,292.1 L1084.3,290.6 L1086.3,289.2 L1088.3,288.4 L1090.4,286.8 L1092.3,285.4 L1094.3,283.8 L1096.3,282.2 L1098.3,280.3 L1100.2,279.1 L1102.2,277.0 L1104.2,275.9 L1106.1,273.8 L1108.0,273.1 L1109.9,271.4 L1111.8,269.1 L1113.7,268.1 L1115.6,266.5 L1117.6,264.2 L1119.8,263.2 L1122.2,261.9 L1124.7,261.2 L1127.2,261.2 L1129.6,261.3 L1131.8,261.5 L1134.0,262.8 L1136.2,264.0 L1138.3,264.8 L1140.5,266.4 L1142.5,268.2 L1144.6,269.7 L1146.6,271.4 L1148.3,273.7 L1149.9,276.0 L1151.5,277.5 L1153.1,279.5 L1154.9,281.4 L1156.9,282.7 L1159.1,283.9 L1161.4,284.2 L1163.7,286.1 L1166.0,286.3 L1168.4,287.2 L1170.7,288.4 L1173.1,289.3 L1175.5,290.2 L1177.9,290.4 L1180.3,291.8 L1182.6,292.2 L1185.0,293.1 L1187.4,293.5 L1189.8,293.8 L1192.2,294.5 L1194.6,295.8 L1197.0,296.3 L1199.4,297.1 L1201.8,297.7 L1204.2,298.2 L1206.6,299.2 L1209.0,299.7 L1211.4,301.1 L1213.8,301.1 L1216.2,302.6 L1218.6,303.2 L1221.0,303.4 L1223.4,304.4 L1225.8,304.7 L1228.3,305.1 L1230.8,305.8 L1233.2,306.2 L1235.7,305.9 L1238.2,306.9 L1240.7,306.4 L1243.2,306.7 L1245.7,307.5 L1248.1,307.7 L1250.6,308.2 L1253.1,308.6 L1255.5,309.0 L1258.0,309.9 L1260.5,310.3 L1262.9,310.2 L1265.4,310.5 L1267.9,311.3 L1270.3,311.3 L1272.8,311.9 L1275.3,312.6 L1277.7,312.3 L1280.2,313.5 L1282.7,313.9 L1285.1,313.8 L1287.6,313.9 L1290.1,314.2 L1292.6,314.0 L1295.1,314.5 L1297.7,314.2 L1300.2,313.9 L1302.7,314.3 L1305.2,314.1 L1307.7,313.7 L1310.2,314.1 L1312.7,314.4 L1315.1,315.2 L1317.6,315.1 L1320.0,315.9 L1322.4,317.1 L1324.8,317.3 L1327.2,318.4 L1329.6,318.4 L1332.0,319.4 L1334.5,319.8 L1336.9,321.0 L1339.4,321.0 L1341.9,320.9 L1344.4,321.0 L1346.8,321.6 L1349.3,321.5 L1351.8,322.1 L1354.3,322.6 L1356.8,322.4 L1359.3,322.5 L1361.8,322.9 L1364.3,322.9 L1366.8,323.8 L1369.3,323.3 L1371.7,324.2 L1374.2,324.0 L1376.7,324.6 L1379.2,324.9 L1381.7,324.5 L1384.2,325.4 L1386.7,325.8 L1389.2,325.6 L1391.7,326.0 L1394.1,325.9 L1396.6,325.9 L1399.1,326.7 L1401.6,327.1 L1404.1,326.7 L1406.6,326.8 L1409.1,327.3 L1411.6,327.8 L1414.1,327.8 L1416.5,328.6 L1419.0,328.6 L1421.5,329.0 L1424.0,328.9 L1426.0,329.3"/>
<path class="crv core" stroke="#CC9A05" d="M177.0,329.8 L179.5,329.6 L181.9,328.8 L184.4,328.0 L186.9,328.3 L189.4,327.8 L191.8,327.1 L194.3,327.3 L196.8,326.5 L199.3,325.7 L201.7,325.4 L204.2,325.1 L206.7,325.1 L209.1,325.0 L211.6,323.9 L214.1,323.4 L216.5,323.6 L219.0,323.1 L221.5,322.7 L224.0,322.7 L226.4,322.4 L228.9,322.1 L231.4,321.5 L233.8,320.4 L236.3,320.2 L238.8,320.2 L241.3,320.3 L243.8,319.0 L246.2,319.2 L248.7,318.7 L251.2,318.5 L253.7,318.1 L256.2,317.8 L258.7,317.6 L261.2,317.3 L263.7,317.5 L266.2,317.3 L268.7,317.5 L271.2,317.3 L273.7,317.6 L276.2,317.0 L278.7,317.6 L281.2,317.1 L283.7,317.4 L286.2,317.6 L288.7,317.3 L291.2,317.5 L293.7,317.8 L296.2,317.4 L298.7,318.0 L301.2,317.7 L303.7,317.9 L306.1,318.5 L308.6,319.0 L311.1,319.2 L313.6,318.6 L316.1,318.7 L318.6,319.2 L321.1,319.4 L323.6,319.5 L326.1,320.1 L328.6,320.3 L331.1,320.3 L333.6,320.6 L336.1,320.7 L338.6,321.0 L341.1,321.4 L343.5,321.6 L346.0,321.8 L348.5,321.8 L351.0,321.1 L353.5,321.6 L356.0,322.0 L358.5,321.5 L361.0,321.9 L363.5,321.4 L366.0,321.5 L368.5,321.7 L371.0,321.4 L373.5,321.8 L376.0,321.6 L378.5,322.2 L381.0,321.6 L383.5,321.6 L386.0,322.0 L388.5,321.8 L391.0,321.2 L393.5,321.4 L396.0,321.7 L398.5,321.2 L401.0,321.2 L403.5,321.6 L406.0,321.4 L408.5,321.1 L411.0,321.3 L413.5,321.4 L416.0,320.7 L418.5,320.9 L421.0,320.9 L423.5,321.4 L426.0,320.5 L428.5,320.7 L431.0,320.5 L433.5,320.9 L436.0,321.0 L438.5,320.1 L441.0,320.9 L443.5,320.6 L446.0,320.1 L448.5,320.7 L451.0,319.9 L453.5,320.3 L456.0,319.5 L458.5,319.7 L461.0,319.6 L463.5,319.9 L466.0,319.6 L468.5,319.2 L471.0,318.5 L473.5,318.7 L476.0,318.4 L478.5,318.8 L480.9,318.2 L483.4,317.6 L485.9,317.3 L488.4,317.4 L490.9,316.3 L493.3,316.6 L495.8,316.0 L498.2,315.2 L500.7,315.0 L503.1,314.1 L505.5,313.2 L508.0,312.9 L510.4,311.9 L512.8,311.2 L515.2,310.9 L517.6,310.6 L520.0,309.3 L522.4,308.9 L524.8,308.7 L527.3,307.8 L529.7,307.2 L532.0,306.2 L534.4,305.4 L536.8,304.6 L539.2,303.9 L541.5,302.9 L543.9,302.0 L546.3,301.1 L548.6,300.1 L551.0,299.5 L553.4,299.1 L555.8,298.0 L558.2,296.8 L560.6,296.6 L562.9,294.9 L565.2,294.8 L567.5,293.4 L569.7,292.2 L571.9,290.9 L574.1,290.0 L576.1,287.7 L578.1,286.2 L580.0,285.1 L581.9,283.2 L583.8,281.7 L585.7,280.2 L587.5,278.0 L589.4,277.3 L591.3,275.3 L593.1,273.1 L595.0,272.0 L596.8,270.2 L598.7,268.6 L600.5,267.0 L602.4,265.6 L604.2,263.0 L606.1,262.2 L607.9,260.0 L609.8,258.1 L611.6,256.5 L613.4,254.8 L615.1,253.5 L616.8,251.3 L618.5,249.0 L620.1,247.7 L621.7,245.6 L623.3,243.9 L624.8,241.2 L626.4,240.1 L627.9,238.1 L629.4,235.2 L630.9,233.7 L632.4,231.3 L633.9,229.7 L635.4,227.3 L636.9,226.1 L638.3,223.3 L639.8,221.8 L641.3,219.8 L642.9,217.5 L644.4,215.4 L645.9,214.2 L647.5,211.3 L649.1,209.6 L650.6,207.7 L652.2,206.0 L653.8,203.9 L655.3,201.6 L656.8,200.1 L658.4,198.3 L659.8,196.2 L661.1,193.9 L662.3,191.5 L663.6,189.0 L664.8,187.4 L666.1,185.3 L667.5,183.1 L669.0,181.6 L670.5,178.9 L672.2,177.6 L673.8,175.6 L675.5,173.9 L677.1,172.0 L678.6,169.4 L680.1,168.0 L681.6,165.5 L683.0,163.8 L684.5,162.0 L685.9,159.6 L687.4,157.5 L688.9,155.0 L690.4,153.5 L691.9,151.2 L693.4,149.3 L694.9,147.4 L696.6,146.1 L698.2,143.9 L700.0,142.1 L701.9,139.9 L703.9,138.5 L705.9,137.7 L708.1,135.7 L710.2,135.2 L712.4,133.5 L714.7,132.3 L717.0,131.4 L719.2,130.2 L721.4,129.1 L723.3,127.5 L725.1,126.0 L726.9,123.8 L728.9,122.2 L731.1,122.1 L733.4,123.1 L735.6,125.4 L737.9,126.9 L740.1,127.0 L742.4,124.8 L744.6,123.1 L746.8,122.1 L749.1,121.5 L751.3,123.2 L753.5,124.3 L755.7,124.9 L757.8,126.5 L760.0,128.1 L762.2,129.1 L764.3,130.4 L766.6,131.8 L768.8,132.6 L771.1,133.5 L773.3,134.9 L775.5,135.7 L777.8,136.5 L779.8,138.1 L781.8,140.0 L783.6,142.1 L785.3,143.6 L786.9,145.3 L788.4,148.0 L789.9,149.5 L791.1,151.5 L792.0,154.2 L792.8,156.4 L793.7,158.5 L794.8,161.3 L796.1,163.4 L797.7,165.7 L799.4,166.7 L801.1,169.3 L802.9,170.9 L804.7,172.1 L806.6,173.9 L808.5,175.7 L810.6,176.9 L812.7,178.0 L814.9,180.0 L817.1,180.5 L819.3,182.0 L821.5,183.2 L823.6,185.0 L825.6,186.1 L827.5,187.6 L828.9,190.2 L829.9,191.9 L831.0,194.7 L832.2,196.4 L833.9,198.6 L835.9,200.1 L838.0,201.7 L840.0,202.8 L842.1,203.9 L844.1,205.8 L846.1,207.5 L848.2,208.4 L850.1,209.6 L852.1,211.3 L854.1,213.6 L856.0,214.3 L858.0,215.9 L859.9,217.5 L861.9,219.8 L863.8,220.9 L865.7,222.8 L867.6,224.5 L869.3,226.1 L870.9,228.3 L872.4,230.0 L874.1,231.9 L876.1,233.2 L878.2,234.1 L880.6,235.7 L883.0,236.1 L885.5,236.9 L887.9,238.4 L890.1,238.9 L892.2,240.0 L893.8,242.4 L895.2,244.4 L896.6,246.2 L898.1,248.5 L900.0,250.3 L902.3,251.1 L904.5,252.9 L906.7,253.8 L909.0,254.7 L911.2,256.2 L913.4,256.4 L915.7,257.8 L917.9,259.6 L920.1,260.3 L922.4,261.1 L924.6,262.6 L926.9,263.8 L929.1,264.8 L931.3,265.4 L933.6,266.5 L935.8,268.0 L938.0,268.7 L940.2,270.0 L942.3,271.9 L944.4,273.1 L946.4,274.3 L948.3,276.6 L950.3,277.6 L952.3,279.7 L954.4,280.8 L956.5,282.2 L958.6,283.3 L960.7,284.9 L962.8,285.8 L965.0,287.1 L967.1,289.0 L969.3,289.6 L971.5,290.9 L973.8,292.4 L976.0,293.0 L978.3,294.1 L980.6,295.7 L982.9,296.0 L985.2,297.0 L987.5,298.6 L989.8,299.0 L992.0,300.1 L994.3,301.6 L996.6,302.0 L998.8,303.6 L1001.1,304.4 L1003.4,305.3 L1005.8,305.6 L1008.2,306.5 L1010.6,308.0 L1013.1,308.9 L1015.5,309.0 L1018.0,309.5 L1020.5,309.9 L1022.9,310.1 L1025.4,310.5 L1027.9,310.4 L1030.3,310.3 L1032.8,309.4 L1035.2,309.0 L1037.7,308.4 L1040.2,307.9 L1042.6,307.2 L1045.0,307.3 L1047.5,306.0 L1049.8,305.1 L1052.2,304.9 L1054.6,304.5 L1057.0,303.6 L1059.3,302.6 L1061.7,301.5 L1064.1,300.7 L1066.4,299.7 L1068.8,299.3 L1071.1,298.4 L1073.4,297.1 L1075.6,296.4 L1077.9,295.0 L1080.0,293.8 L1082.2,292.1 L1084.3,290.6 L1086.3,289.2 L1088.3,288.4 L1090.4,286.8 L1092.3,285.4 L1094.3,283.8 L1096.3,282.2 L1098.3,280.3 L1100.2,279.1 L1102.2,277.0 L1104.2,275.9 L1106.1,273.8 L1108.0,273.1 L1109.9,271.4 L1111.8,269.1 L1113.7,268.1 L1115.6,266.5 L1117.6,264.2 L1119.8,263.2 L1122.2,261.9 L1124.7,261.2 L1127.2,261.2 L1129.6,261.3 L1131.8,261.5 L1134.0,262.8 L1136.2,264.0 L1138.3,264.8 L1140.5,266.4 L1142.5,268.2 L1144.6,269.7 L1146.6,271.4 L1148.3,273.7 L1149.9,276.0 L1151.5,277.5 L1153.1,279.5 L1154.9,281.4 L1156.9,282.7 L1159.1,283.9 L1161.4,284.2 L1163.7,286.1 L1166.0,286.3 L1168.4,287.2 L1170.7,288.4 L1173.1,289.3 L1175.5,290.2 L1177.9,290.4 L1180.3,291.8 L1182.6,292.2 L1185.0,293.1 L1187.4,293.5 L1189.8,293.8 L1192.2,294.5 L1194.6,295.8 L1197.0,296.3 L1199.4,297.1 L1201.8,297.7 L1204.2,298.2 L1206.6,299.2 L1209.0,299.7 L1211.4,301.1 L1213.8,301.1 L1216.2,302.6 L1218.6,303.2 L1221.0,303.4 L1223.4,304.4 L1225.8,304.7 L1228.3,305.1 L1230.8,305.8 L1233.2,306.2 L1235.7,305.9 L1238.2,306.9 L1240.7,306.4 L1243.2,306.7 L1245.7,307.5 L1248.1,307.7 L1250.6,308.2 L1253.1,308.6 L1255.5,309.0 L1258.0,309.9 L1260.5,310.3 L1262.9,310.2 L1265.4,310.5 L1267.9,311.3 L1270.3,311.3 L1272.8,311.9 L1275.3,312.6 L1277.7,312.3 L1280.2,313.5 L1282.7,313.9 L1285.1,313.8 L1287.6,313.9 L1290.1,314.2 L1292.6,314.0 L1295.1,314.5 L1297.7,314.2 L1300.2,313.9 L1302.7,314.3 L1305.2,314.1 L1307.7,313.7 L1310.2,314.1 L1312.7,314.4 L1315.1,315.2 L1317.6,315.1 L1320.0,315.9 L1322.4,317.1 L1324.8,317.3 L1327.2,318.4 L1329.6,318.4 L1332.0,319.4 L1334.5,319.8 L1336.9,321.0 L1339.4,321.0 L1341.9,320.9 L1344.4,321.0 L1346.8,321.6 L1349.3,321.5 L1351.8,322.1 L1354.3,322.6 L1356.8,322.4 L1359.3,322.5 L1361.8,322.9 L1364.3,322.9 L1366.8,323.8 L1369.3,323.3 L1371.7,324.2 L1374.2,324.0 L1376.7,324.6 L1379.2,324.9 L1381.7,324.5 L1384.2,325.4 L1386.7,325.8 L1389.2,325.6 L1391.7,326.0 L1394.1,325.9 L1396.6,325.9 L1399.1,326.7 L1401.6,327.1 L1404.1,326.7 L1406.6,326.8 L1409.1,327.3 L1411.6,327.8 L1414.1,327.8 L1416.5,328.6 L1419.0,328.6 L1421.5,329.0 L1424.0,328.9 L1426.0,329.3"/>
<path d="M1209.5,741 L1211.5,759.5" stroke="#B474DE" stroke-width="6" fill="none"/>
</g>
<path d="M214.4,1406 V1417.5 M307.6,1406 V1428.5 M400.8,1406 V1417.5 M494.0,1406 V1428.5 M587.2,1406 V1417.5 M680.4,1406 V1428.5 M773.6,1406 V1417.5 M866.8,1406 V1428.5 M960.0,1406 V1417.5 M1053.2,1406 V1428.5 M1146.4,1406 V1417.5 M1239.6,1406 V1428.5 M1332.8,1406 V1417.5 M1426.0,1406 V1428.5" stroke="#000" stroke-width="8.2" fill="none"/>
<text class="tick" transform="translate(307.6,1498.8) scale(1,1.035)" >100</text>
<text class="tick" transform="translate(494.0,1498.8) scale(1,1.035)" >200</text>
<text class="tick" transform="translate(680.4,1498.8) scale(1,1.035)" >300</text>
<text class="tick" transform="translate(866.8,1498.8) scale(1,1.035)" >400</text>
<text class="tick" transform="translate(1053.2,1498.8) scale(1,1.035)" >500</text>
<text class="tick" transform="translate(1239.6,1498.8) scale(1,1.035)" >600</text>
<text class="tick" transform="translate(1426.0,1498.8) scale(1,1.035)" >700</text>
<text class="axis" transform="translate(541.0,1592.0) scale(1,1.035)" >Temperature (<tspan font-size="48" dy="-27">o</tspan><tspan dy="27">C)</tspan></text>
<text class="axis" transform="translate(80,1002.5) rotate(-90) scale(1,1.035)">H<tspan font-size="44" dy="16">2</tspan><tspan dy="-16"> consumed (a.u.)</tspan></text>
<text class="ann" transform="translate(652.8,103.0) scale(1,1.065)" >330 <tspan font-size="40" dy="-22.3">o</tspan><tspan dy="22.3">C</tspan></text>
<text class="ann" transform="translate(1070.8,222.5) scale(1,1.065)" >538 <tspan font-size="40" dy="-22.3">o</tspan><tspan dy="22.3">C</tspan></text>
<text class="ann" transform="translate(223.3,286.1) scale(1,1.065)" >69 <tspan font-size="40" dy="-22.3">o</tspan><tspan dy="22.3">C</tspan></text>
<text class="ann" transform="translate(700.8,307.4) scale(1,1.065)" >347 <tspan font-size="40" dy="-22.3">o</tspan><tspan dy="22.3">C</tspan></text>
<text class="ann" transform="translate(215.8,533.1) scale(1,1.065)" >61 <tspan font-size="40" dy="-22.3">o</tspan><tspan dy="22.3">C</tspan></text>
<text class="ann" transform="translate(734.8,580.3) scale(1,1.065)" >357 <tspan font-size="40" dy="-22.3">o</tspan><tspan dy="22.3">C</tspan></text>
<text class="ann" transform="translate(216.8,735.2) scale(1,1.065)" >69 <tspan font-size="40" dy="-22.3">o</tspan><tspan dy="22.3">C</tspan></text>
<text class="ann" transform="translate(706.8,792.6) scale(1,1.065)" >342 <tspan font-size="40" dy="-22.3">o</tspan><tspan dy="22.3">C</tspan></text>
<text class="ann" transform="translate(247.3,943.1) scale(1,1.065)" >71 <tspan font-size="40" dy="-22.3">o</tspan><tspan dy="22.3">C</tspan></text>
<text class="ann" transform="translate(758.8,1017.3) scale(1,1.065)" >401 <tspan font-size="40" dy="-22.3">o</tspan><tspan dy="22.3">C</tspan></text>
<text class="ann" transform="translate(287.8,1122.0) scale(1,1.065)" >103 <tspan font-size="40" dy="-22.3">o</tspan><tspan dy="22.3">C</tspan></text>
<text class="ann" transform="translate(901.3,1192.6) scale(1,1.065)" >488 <tspan font-size="40" dy="-22.3">o</tspan><tspan dy="22.3">C</tspan></text>
<text class="ann" transform="translate(602.3,1312.0) scale(1,1.065)" >311 <tspan font-size="40" dy="-22.3">o</tspan><tspan dy="22.3">C</tspan></text>
<text class="lab" transform="translate(1349.3,287.8) scale(1,0.93)" style="fill:#CC9A05">(f)</text>
<text class="lab" transform="translate(1346.3,530.9) scale(1,0.93)" style="fill:#186BDE">(e)</text>
<text class="lab" transform="translate(1339.3,762.4) scale(1,0.93)" style="fill:#B474DE">(d)</text>
<text class="lab" transform="translate(1343.3,930.7) scale(1,0.93)" style="fill:#F54040">(c)</text>
<text class="lab" transform="translate(1332.8,1132.4) scale(1,0.93)" style="fill:#2EAC6A">(b)</text>
<text class="lab" transform="translate(1341.8,1333.4) scale(1,0.93)" style="fill:#000">(a)</text>
</svg>
</body></html>
